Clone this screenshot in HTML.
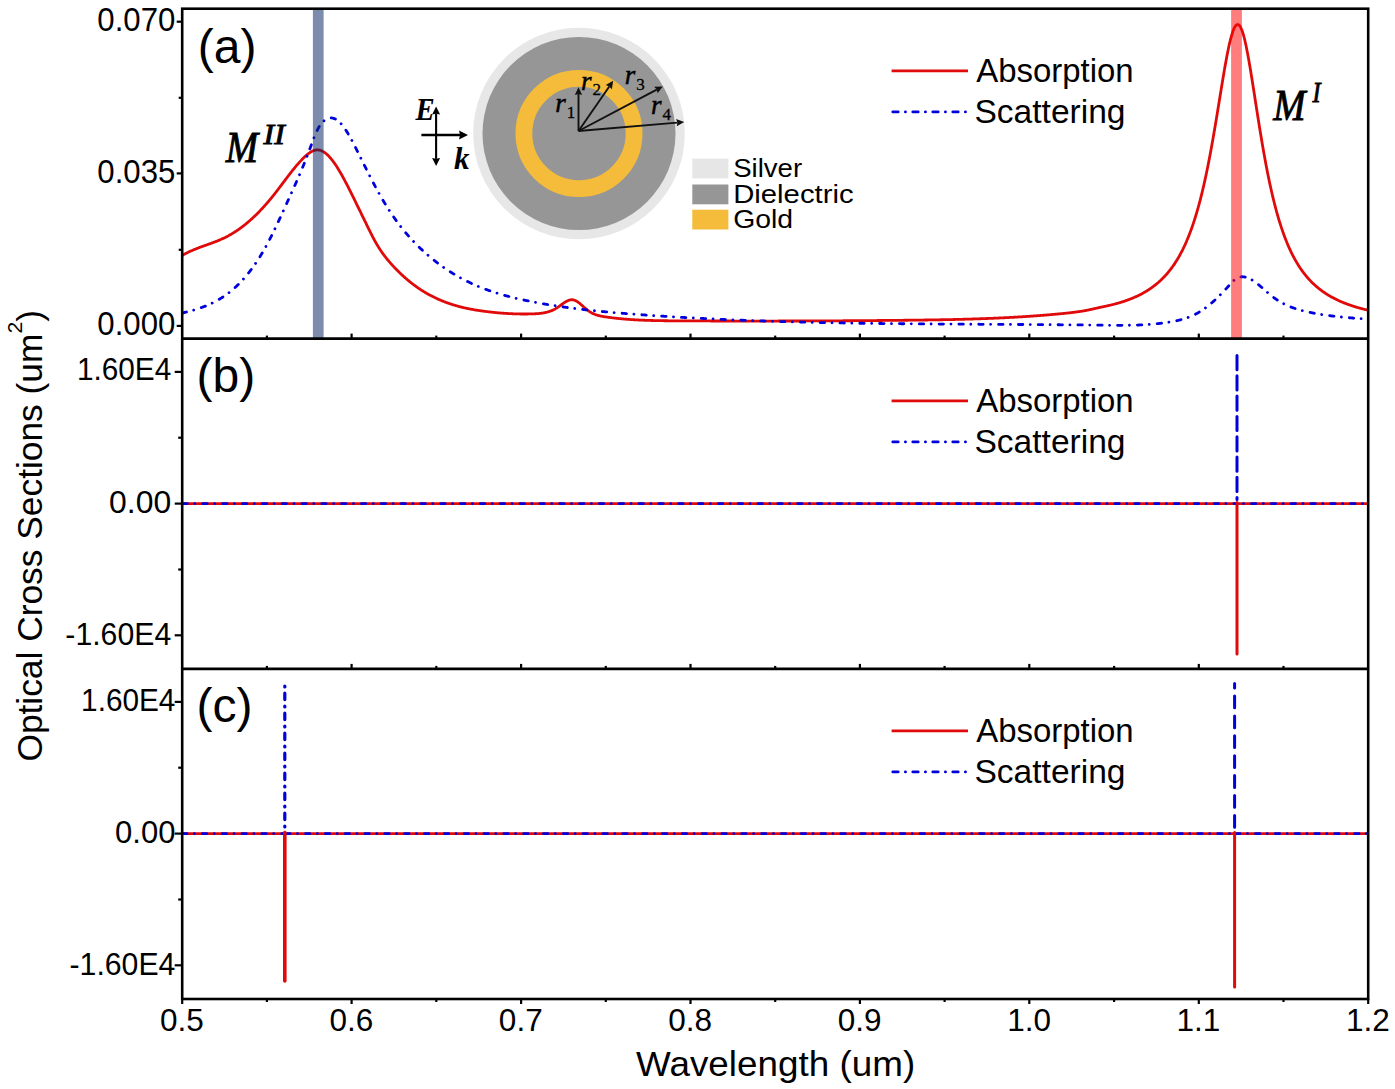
<!DOCTYPE html><html><head><meta charset="utf-8"><style>html,body{margin:0;padding:0;background:#fff;overflow:hidden}svg{display:block;font-family:"Liberation Sans",sans-serif}</style></head><body>
<svg font-family="Liberation Sans, sans-serif" width="1395" height="1089" viewBox="0 0 1395 1089">
<rect width="1395" height="1089" fill="#fff"/>
<defs><clipPath id="ca"><rect x="182.2" y="8.7" width="1186.0" height="329.9"/></clipPath></defs>
<g clip-path="url(#ca)" fill="none" stroke-width="2.8" stroke-linejoin="round">
<path d="M182.20,255.47 L182.70,255.18 L183.20,254.89 L183.70,254.61 L184.20,254.34 L184.70,254.07 L185.20,253.80 L185.70,253.53 L186.20,253.27 L186.70,253.02 L187.20,252.77 L187.70,252.52 L188.20,252.27 L188.70,252.03 L189.20,251.79 L189.70,251.56 L190.20,251.33 L190.70,251.10 L191.20,250.88 L191.70,250.65 L192.20,250.43 L192.70,250.22 L193.20,250.00 L193.70,249.79 L194.20,249.59 L194.70,249.38 L195.20,249.17 L195.70,248.97 L196.20,248.77 L196.70,248.58 L197.20,248.38 L197.70,248.19 L198.20,247.99 L198.70,247.80 L199.20,247.61 L199.70,247.43 L200.20,247.24 L200.70,247.05 L201.20,246.87 L201.70,246.69 L202.20,246.50 L202.70,246.32 L203.20,246.14 L203.70,245.96 L204.20,245.78 L204.70,245.60 L205.20,245.42 L205.70,245.25 L206.20,245.07 L206.70,244.89 L207.20,244.71 L207.70,244.53 L208.20,244.35 L208.70,244.17 L209.20,243.99 L209.70,243.81 L210.20,243.63 L210.70,243.45 L211.20,243.27 L211.70,243.09 L212.20,242.90 L212.70,242.72 L213.20,242.53 L213.70,242.34 L214.20,242.15 L214.70,241.96 L215.20,241.77 L215.70,241.58 L216.20,241.38 L216.70,241.18 L217.20,240.98 L217.70,240.78 L218.20,240.58 L218.70,240.37 L219.20,240.16 L219.70,239.95 L220.20,239.74 L220.70,239.52 L221.20,239.30 L221.70,239.08 L222.20,238.85 L222.70,238.62 L223.20,238.39 L223.70,238.16 L224.20,237.92 L224.70,237.68 L225.20,237.43 L225.70,237.19 L226.20,236.93 L226.70,236.68 L227.20,236.42 L227.70,236.15 L228.20,235.89 L228.70,235.61 L229.20,235.34 L229.70,235.06 L230.20,234.78 L230.70,234.49 L231.20,234.20 L231.70,233.90 L232.20,233.60 L232.70,233.30 L233.20,232.99 L233.70,232.68 L234.20,232.37 L234.70,232.05 L235.20,231.73 L235.70,231.40 L236.20,231.07 L236.70,230.74 L237.20,230.40 L237.70,230.06 L238.20,229.72 L238.70,229.37 L239.20,229.01 L239.70,228.66 L240.20,228.29 L240.70,227.93 L241.20,227.56 L241.70,227.19 L242.20,226.81 L242.70,226.43 L243.20,226.05 L243.70,225.66 L244.20,225.26 L244.70,224.87 L245.20,224.47 L245.70,224.06 L246.20,223.65 L246.70,223.24 L247.20,222.83 L247.70,222.41 L248.20,221.98 L248.70,221.55 L249.20,221.12 L249.70,220.69 L250.20,220.25 L250.70,219.80 L251.20,219.35 L251.70,218.90 L252.20,218.45 L252.70,217.99 L253.20,217.52 L253.70,217.05 L254.20,216.58 L254.70,216.11 L255.20,215.63 L255.70,215.14 L256.20,214.66 L256.70,214.16 L257.20,213.67 L257.70,213.17 L258.20,212.66 L258.70,212.16 L259.20,211.65 L259.70,211.13 L260.20,210.61 L260.70,210.09 L261.20,209.56 L261.70,209.03 L262.20,208.49 L262.70,207.95 L263.20,207.41 L263.70,206.86 L264.20,206.31 L264.70,205.75 L265.20,205.19 L265.70,204.63 L266.20,204.06 L266.70,203.49 L267.20,202.91 L267.70,202.33 L268.20,201.75 L268.70,201.16 L269.20,200.57 L269.70,199.97 L270.20,199.37 L270.70,198.77 L271.20,198.16 L271.70,197.54 L272.20,196.93 L272.70,196.31 L273.20,195.68 L273.70,195.05 L274.20,194.42 L274.70,193.78 L275.20,193.15 L275.70,192.50 L276.20,191.86 L276.70,191.21 L277.20,190.56 L277.70,189.91 L278.20,189.25 L278.70,188.59 L279.20,187.93 L279.70,187.27 L280.20,186.61 L280.70,185.95 L281.20,185.29 L281.70,184.62 L282.20,183.96 L282.70,183.29 L283.20,182.63 L283.70,181.96 L284.20,181.30 L284.70,180.63 L285.20,179.97 L285.70,179.31 L286.20,178.65 L286.70,177.99 L287.20,177.33 L287.70,176.67 L288.20,176.02 L288.70,175.36 L289.20,174.71 L289.70,174.07 L290.20,173.42 L290.70,172.78 L291.20,172.14 L291.70,171.50 L292.20,170.87 L292.70,170.24 L293.20,169.62 L293.70,169.00 L294.20,168.38 L294.70,167.77 L295.20,167.17 L295.70,166.57 L296.20,165.97 L296.70,165.38 L297.20,164.79 L297.70,164.22 L298.20,163.64 L298.70,163.08 L299.20,162.51 L299.70,161.96 L300.20,161.41 L300.70,160.87 L301.20,160.34 L301.70,159.82 L302.20,159.30 L302.70,158.79 L303.20,158.29 L303.70,157.79 L304.20,157.31 L304.70,156.83 L305.20,156.36 L305.70,155.91 L306.20,155.46 L306.70,155.03 L307.20,154.61 L307.70,154.21 L308.20,153.81 L308.70,153.43 L309.20,153.07 L309.70,152.73 L310.20,152.40 L310.70,152.08 L311.20,151.79 L311.70,151.51 L312.20,151.26 L312.70,151.02 L313.20,150.81 L313.70,150.61 L314.20,150.44 L314.70,150.29 L315.20,150.17 L315.70,150.07 L316.20,149.99 L316.70,149.94 L317.20,149.92 L317.70,149.92 L318.20,149.95 L318.70,150.01 L319.20,150.09 L319.70,150.20 L320.20,150.33 L320.70,150.49 L321.20,150.67 L321.70,150.88 L322.20,151.11 L322.70,151.36 L323.20,151.64 L323.70,151.94 L324.20,152.26 L324.70,152.61 L325.20,152.97 L325.70,153.36 L326.20,153.77 L326.70,154.20 L327.20,154.65 L327.70,155.12 L328.20,155.61 L328.70,156.11 L329.20,156.64 L329.70,157.19 L330.20,157.75 L330.70,158.33 L331.20,158.93 L331.70,159.55 L332.20,160.18 L332.70,160.83 L333.20,161.50 L333.70,162.18 L334.20,162.87 L334.70,163.58 L335.20,164.31 L335.70,165.05 L336.20,165.80 L336.70,166.57 L337.20,167.35 L337.70,168.14 L338.20,168.95 L338.70,169.77 L339.20,170.60 L339.70,171.44 L340.20,172.29 L340.70,173.15 L341.20,174.03 L341.70,174.91 L342.20,175.80 L342.70,176.71 L343.20,177.62 L343.70,178.54 L344.20,179.46 L344.70,180.40 L345.20,181.34 L345.70,182.29 L346.20,183.25 L346.70,184.21 L347.20,185.18 L347.70,186.16 L348.20,187.14 L348.70,188.12 L349.20,189.11 L349.70,190.11 L350.20,191.11 L350.70,192.11 L351.20,193.11 L351.70,194.12 L352.20,195.13 L352.70,196.15 L353.20,197.16 L353.70,198.18 L354.20,199.19 L354.70,200.21 L355.20,201.23 L355.70,202.25 L356.20,203.27 L356.70,204.29 L357.20,205.31 L357.70,206.33 L358.20,207.36 L358.70,208.38 L359.20,209.40 L359.70,210.43 L360.20,211.45 L360.70,212.47 L361.20,213.50 L361.70,214.52 L362.20,215.55 L362.70,216.57 L363.20,217.60 L363.70,218.62 L364.20,219.65 L364.70,220.67 L365.20,221.69 L365.70,222.72 L366.20,223.74 L366.70,224.77 L367.20,225.79 L367.70,226.81 L368.20,227.83 L368.70,228.86 L369.20,229.87 L369.70,230.89 L370.20,231.90 L370.70,232.91 L371.20,233.90 L371.70,234.90 L372.20,235.88 L372.70,236.85 L373.20,237.81 L373.70,238.76 L374.20,239.69 L374.70,240.61 L375.20,241.52 L375.70,242.41 L376.20,243.28 L376.70,244.14 L377.20,244.98 L377.70,245.81 L378.20,246.63 L378.70,247.43 L379.20,248.22 L379.70,248.99 L380.20,249.75 L380.70,250.50 L381.20,251.24 L381.70,251.96 L382.20,252.68 L382.70,253.38 L383.20,254.07 L383.70,254.75 L384.20,255.42 L384.70,256.08 L385.20,256.73 L385.70,257.37 L386.20,258.01 L386.70,258.63 L387.20,259.25 L387.70,259.85 L388.20,260.45 L388.70,261.05 L389.20,261.63 L389.70,262.21 L390.20,262.79 L390.70,263.35 L391.20,263.92 L391.70,264.47 L392.20,265.02 L392.70,265.57 L393.20,266.11 L393.70,266.65 L394.20,267.18 L394.70,267.71 L395.20,268.24 L395.70,268.76 L396.20,269.27 L396.70,269.79 L397.20,270.29 L397.70,270.80 L398.20,271.30 L398.70,271.79 L399.20,272.28 L399.70,272.77 L400.20,273.25 L400.70,273.73 L401.20,274.20 L401.70,274.67 L402.20,275.14 L402.70,275.60 L403.20,276.05 L403.70,276.51 L404.20,276.96 L404.70,277.40 L405.20,277.84 L405.70,278.28 L406.20,278.71 L406.70,279.14 L407.20,279.57 L407.70,279.99 L408.20,280.41 L408.70,280.82 L409.20,281.23 L409.70,281.64 L410.20,282.04 L410.70,282.44 L411.20,282.84 L411.70,283.23 L412.20,283.62 L412.70,284.00 L413.20,284.38 L413.70,284.76 L414.20,285.13 L414.70,285.50 L415.20,285.87 L415.70,286.23 L416.20,286.59 L416.70,286.94 L417.20,287.30 L417.70,287.64 L418.20,287.99 L418.70,288.33 L419.20,288.67 L419.70,289.00 L420.20,289.34 L420.70,289.66 L421.20,289.99 L421.70,290.31 L422.20,290.63 L422.70,290.94 L423.20,291.26 L423.70,291.57 L424.20,291.87 L424.70,292.17 L425.20,292.47 L425.70,292.77 L426.20,293.06 L426.70,293.35 L427.20,293.64 L427.70,293.92 L428.20,294.20 L428.70,294.48 L429.20,294.75 L429.70,295.03 L430.20,295.29 L430.70,295.56 L431.20,295.82 L431.70,296.08 L432.20,296.34 L432.70,296.60 L433.20,296.85 L433.70,297.10 L434.20,297.34 L434.70,297.58 L435.20,297.82 L435.70,298.06 L436.20,298.30 L436.70,298.53 L437.20,298.76 L437.70,298.99 L438.20,299.21 L438.70,299.43 L439.20,299.65 L439.70,299.87 L440.20,300.08 L440.70,300.29 L441.20,300.50 L441.70,300.71 L442.20,300.91 L442.70,301.12 L443.20,301.32 L443.70,301.51 L444.20,301.71 L444.70,301.90 L445.20,302.09 L445.70,302.28 L446.20,302.46 L446.70,302.65 L447.20,302.83 L447.70,303.00 L448.20,303.18 L448.70,303.35 L449.20,303.53 L449.70,303.70 L450.20,303.86 L450.70,304.03 L451.20,304.19 L451.70,304.35 L452.20,304.51 L452.70,304.67 L453.20,304.82 L453.70,304.98 L454.20,305.13 L454.70,305.28 L455.20,305.43 L455.70,305.57 L456.20,305.71 L456.70,305.85 L457.20,305.99 L457.70,306.13 L458.20,306.27 L458.70,306.40 L459.20,306.53 L459.70,306.66 L460.20,306.79 L460.70,306.92 L461.20,307.04 L461.70,307.17 L462.20,307.29 L462.70,307.41 L463.20,307.53 L463.70,307.65 L464.20,307.76 L464.70,307.87 L465.20,307.99 L465.70,308.10 L466.20,308.21 L466.70,308.31 L467.20,308.42 L467.70,308.52 L468.20,308.63 L468.70,308.73 L469.20,308.83 L469.70,308.93 L470.20,309.02 L470.70,309.12 L471.20,309.22 L471.70,309.31 L472.20,309.40 L472.70,309.49 L473.20,309.58 L473.70,309.67 L474.20,309.76 L474.70,309.84 L475.20,309.93 L475.70,310.01 L476.20,310.09 L476.70,310.17 L477.20,310.25 L477.70,310.33 L478.20,310.41 L478.70,310.49 L479.20,310.56 L479.70,310.64 L480.20,310.71 L480.70,310.79 L481.20,310.86 L481.70,310.93 L482.20,311.00 L482.70,311.07 L483.20,311.14 L483.70,311.20 L484.20,311.27 L484.70,311.34 L485.20,311.40 L485.70,311.47 L486.20,311.53 L486.70,311.59 L487.20,311.65 L487.70,311.72 L488.20,311.78 L488.70,311.84 L489.20,311.89 L489.70,311.95 L490.20,312.01 L490.70,312.07 L491.20,312.12 L491.70,312.18 L492.20,312.23 L492.70,312.29 L493.20,312.34 L493.70,312.39 L494.20,312.44 L494.70,312.49 L495.20,312.54 L495.70,312.59 L496.20,312.64 L496.70,312.69 L497.20,312.73 L497.70,312.78 L498.20,312.82 L498.70,312.87 L499.20,312.91 L499.70,312.95 L500.20,312.99 L500.70,313.04 L501.20,313.08 L501.70,313.11 L502.20,313.15 L502.70,313.19 L503.20,313.23 L503.70,313.26 L504.20,313.30 L504.70,313.33 L505.20,313.37 L505.70,313.40 L506.20,313.43 L506.70,313.46 L507.20,313.49 L507.70,313.52 L508.20,313.55 L508.70,313.58 L509.20,313.60 L509.70,313.63 L510.20,313.65 L510.70,313.68 L511.20,313.70 L511.70,313.72 L512.20,313.75 L512.70,313.77 L513.20,313.79 L513.70,313.81 L514.20,313.82 L514.70,313.84 L515.20,313.86 L515.70,313.87 L516.20,313.89 L516.70,313.90 L517.20,313.91 L517.70,313.93 L518.20,313.94 L518.70,313.95 L519.20,313.96 L519.70,313.96 L520.20,313.97 L520.70,313.98 L521.20,313.98 L521.70,313.99 L522.20,313.99 L522.70,314.00 L523.20,314.00 L523.70,314.00 L524.20,314.00 L524.70,314.00 L525.20,314.00 L525.70,314.00 L526.20,313.99 L526.70,313.99 L527.20,313.98 L527.70,313.98 L528.20,313.97 L528.70,313.96 L529.20,313.95 L529.70,313.94 L530.20,313.93 L530.70,313.92 L531.20,313.91 L531.70,313.90 L532.20,313.88 L532.70,313.87 L533.20,313.85 L533.70,313.83 L534.20,313.81 L534.70,313.79 L535.20,313.77 L535.70,313.74 L536.20,313.72 L536.70,313.69 L537.20,313.65 L537.70,313.62 L538.20,313.58 L538.70,313.54 L539.20,313.49 L539.70,313.45 L540.20,313.39 L540.70,313.33 L541.20,313.27 L541.70,313.21 L542.20,313.14 L542.70,313.06 L543.20,312.98 L543.70,312.89 L544.20,312.80 L544.70,312.70 L545.20,312.59 L545.70,312.48 L546.20,312.37 L546.70,312.24 L547.20,312.11 L547.70,311.97 L548.20,311.83 L548.70,311.67 L549.20,311.51 L549.70,311.34 L550.20,311.16 L550.70,310.98 L551.20,310.78 L551.70,310.58 L552.20,310.37 L552.70,310.15 L553.20,309.91 L553.70,309.67 L554.20,309.42 L554.70,309.16 L555.20,308.89 L555.70,308.61 L556.20,308.31 L556.70,308.01 L557.20,307.70 L557.70,307.37 L558.20,307.03 L558.70,306.69 L559.20,306.33 L559.70,305.97 L560.20,305.61 L560.70,305.24 L561.20,304.87 L561.70,304.50 L562.20,304.14 L562.70,303.77 L563.20,303.42 L563.70,303.07 L564.20,302.73 L564.70,302.39 L565.20,302.08 L565.70,301.77 L566.20,301.48 L566.70,301.20 L567.20,300.95 L567.70,300.71 L568.20,300.50 L568.70,300.31 L569.20,300.14 L569.70,300.00 L570.20,299.89 L570.70,299.81 L571.20,299.76 L571.70,299.74 L572.20,299.75 L572.70,299.80 L573.20,299.88 L573.70,299.99 L574.20,300.13 L574.70,300.30 L575.20,300.50 L575.70,300.73 L576.20,300.98 L576.70,301.26 L577.20,301.57 L577.70,301.90 L578.20,302.25 L578.70,302.63 L579.20,303.02 L579.70,303.42 L580.20,303.84 L580.70,304.27 L581.20,304.71 L581.70,305.15 L582.20,305.60 L582.70,306.04 L583.20,306.49 L583.70,306.93 L584.20,307.37 L584.70,307.81 L585.20,308.24 L585.70,308.66 L586.20,309.08 L586.70,309.49 L587.20,309.89 L587.70,310.27 L588.20,310.65 L588.70,311.01 L589.20,311.36 L589.70,311.69 L590.20,312.01 L590.70,312.31 L591.20,312.60 L591.70,312.88 L592.20,313.14 L592.70,313.39 L593.20,313.63 L593.70,313.86 L594.20,314.07 L594.70,314.28 L595.20,314.47 L595.70,314.66 L596.20,314.84 L596.70,315.00 L597.20,315.16 L597.70,315.31 L598.20,315.45 L598.70,315.58 L599.20,315.71 L599.70,315.83 L600.20,315.94 L600.70,316.05 L601.20,316.15 L601.70,316.25 L602.20,316.35 L602.70,316.44 L603.20,316.52 L603.70,316.60 L604.20,316.68 L604.70,316.76 L605.20,316.84 L605.70,316.91 L606.20,316.98 L606.70,317.06 L607.20,317.13 L607.70,317.20 L608.20,317.27 L608.70,317.33 L609.20,317.40 L609.70,317.47 L610.20,317.53 L610.70,317.60 L611.20,317.66 L611.70,317.73 L612.20,317.79 L612.70,317.85 L613.20,317.91 L613.70,317.97 L614.20,318.03 L614.70,318.09 L615.20,318.14 L615.70,318.20 L616.20,318.25 L616.70,318.31 L617.20,318.36 L617.70,318.42 L618.20,318.47 L618.70,318.52 L619.20,318.57 L619.70,318.62 L620.20,318.67 L620.70,318.72 L621.20,318.76 L621.70,318.81 L622.20,318.86 L622.70,318.90 L623.20,318.95 L623.70,318.99 L624.20,319.04 L624.70,319.08 L625.20,319.12 L625.70,319.16 L626.20,319.20 L626.70,319.24 L627.20,319.28 L627.70,319.32 L628.20,319.36 L628.70,319.39 L629.20,319.43 L629.70,319.47 L630.20,319.50 L630.70,319.54 L631.20,319.57 L631.70,319.60 L632.20,319.64 L632.70,319.67 L633.20,319.70 L633.70,319.73 L634.20,319.76 L634.70,319.79 L635.20,319.82 L635.70,319.85 L636.20,319.88 L636.70,319.90 L637.20,319.93 L637.70,319.96 L638.20,319.98 L638.70,320.01 L639.20,320.03 L639.70,320.06 L640.20,320.08 L640.70,320.10 L641.20,320.13 L641.70,320.15 L642.20,320.17 L642.70,320.19 L643.20,320.21 L643.70,320.23 L644.20,320.25 L644.70,320.27 L645.20,320.29 L645.70,320.31 L646.20,320.33 L646.70,320.34 L647.20,320.36 L647.70,320.38 L648.20,320.39 L648.70,320.41 L649.20,320.43 L649.70,320.44 L650.20,320.46 L650.70,320.47 L651.20,320.48 L651.70,320.50 L652.20,320.51 L652.70,320.52 L653.20,320.54 L653.70,320.55 L654.20,320.56 L654.70,320.57 L655.20,320.58 L655.70,320.59 L656.20,320.60 L656.70,320.61 L657.20,320.62 L657.70,320.63 L658.20,320.64 L658.70,320.65 L659.20,320.66 L659.70,320.67 L660.20,320.68 L660.70,320.68 L661.20,320.69 L661.70,320.70 L662.20,320.71 L662.70,320.71 L663.20,320.72 L663.70,320.73 L664.20,320.73 L664.70,320.74 L665.20,320.74 L665.70,320.75 L666.20,320.76 L666.70,320.76 L667.20,320.77 L667.70,320.77 L668.20,320.78 L668.70,320.78 L669.20,320.78 L669.70,320.79 L670.20,320.79 L670.70,320.80 L671.20,320.80 L671.70,320.80 L672.20,320.81 L672.70,320.81 L673.20,320.81 L673.70,320.82 L674.20,320.82 L674.70,320.82 L675.20,320.83 L675.70,320.83 L676.20,320.83 L676.70,320.84 L677.20,320.84 L677.70,320.84 L678.20,320.84 L678.70,320.85 L679.20,320.85 L679.70,320.85 L680.20,320.85 L680.70,320.86 L681.20,320.86 L681.70,320.86 L682.20,320.86 L682.70,320.87 L683.20,320.87 L683.70,320.87 L684.20,320.87 L684.70,320.88 L685.20,320.88 L685.70,320.88 L686.20,320.88 L686.70,320.88 L687.20,320.89 L687.70,320.89 L688.20,320.89 L688.70,320.89 L689.20,320.90 L689.70,320.90 L690.20,320.90 L690.70,320.90 L691.20,320.90 L691.70,320.91 L692.20,320.91 L692.70,320.91 L693.20,320.91 L693.70,320.92 L694.20,320.92 L694.70,320.92 L695.20,320.92 L695.70,320.92 L696.20,320.93 L696.70,320.93 L697.20,320.93 L697.70,320.93 L698.20,320.93 L698.70,320.94 L699.20,320.94 L699.70,320.94 L700.20,320.94 L700.70,320.94 L701.20,320.94 L701.70,320.95 L702.20,320.95 L702.70,320.95 L703.20,320.95 L703.70,320.95 L704.20,320.96 L704.70,320.96 L705.20,320.96 L705.70,320.96 L706.20,320.96 L706.70,320.96 L707.20,320.97 L707.70,320.97 L708.20,320.97 L708.70,320.97 L709.20,320.97 L709.70,320.97 L710.20,320.97 L710.70,320.98 L711.20,320.98 L711.70,320.98 L712.20,320.98 L712.70,320.98 L713.20,320.98 L713.70,320.98 L714.20,320.99 L714.70,320.99 L715.20,320.99 L715.70,320.99 L716.20,320.99 L716.70,320.99 L717.20,320.99 L717.70,321.00 L718.20,321.00 L718.70,321.00 L719.20,321.00 L719.70,321.00 L720.20,321.00 L720.70,321.00 L721.20,321.00 L721.70,321.00 L722.20,321.01 L722.70,321.01 L723.20,321.01 L723.70,321.01 L724.20,321.01 L724.70,321.01 L725.20,321.01 L725.70,321.01 L726.20,321.01 L726.70,321.02 L727.20,321.02 L727.70,321.02 L728.20,321.02 L728.70,321.02 L729.20,321.02 L729.70,321.02 L730.20,321.02 L730.70,321.02 L731.20,321.02 L731.70,321.02 L732.20,321.02 L732.70,321.03 L733.20,321.03 L733.70,321.03 L734.20,321.03 L734.70,321.03 L735.20,321.03 L735.70,321.03 L736.20,321.03 L736.70,321.03 L737.20,321.03 L737.70,321.03 L738.20,321.03 L738.70,321.03 L739.20,321.03 L739.70,321.03 L740.20,321.04 L740.70,321.04 L741.20,321.04 L741.70,321.04 L742.20,321.04 L742.70,321.04 L743.20,321.04 L743.70,321.04 L744.20,321.04 L744.70,321.04 L745.20,321.04 L745.70,321.04 L746.20,321.04 L746.70,321.04 L747.20,321.04 L747.70,321.04 L748.20,321.04 L748.70,321.04 L749.20,321.04 L749.70,321.04 L750.20,321.04 L750.70,321.04 L751.20,321.04 L751.70,321.04 L752.20,321.04 L752.70,321.04 L753.20,321.04 L753.70,321.04 L754.20,321.04 L754.70,321.04 L755.20,321.04 L755.70,321.04 L756.20,321.04 L756.70,321.04 L757.20,321.04 L757.70,321.04 L758.20,321.04 L758.70,321.04 L759.20,321.04 L759.70,321.04 L760.20,321.04 L760.70,321.04 L761.20,321.04 L761.70,321.04 L762.20,321.04 L762.70,321.04 L763.20,321.04 L763.70,321.04 L764.20,321.04 L764.70,321.04 L765.20,321.04 L765.70,321.04 L766.20,321.04 L766.70,321.04 L767.20,321.04 L767.70,321.04 L768.20,321.04 L768.70,321.04 L769.20,321.04 L769.70,321.04 L770.20,321.04 L770.70,321.03 L771.20,321.03 L771.70,321.03 L772.20,321.03 L772.70,321.03 L773.20,321.03 L773.70,321.03 L774.20,321.03 L774.70,321.03 L775.20,321.03 L775.70,321.03 L776.20,321.03 L776.70,321.03 L777.20,321.03 L777.70,321.03 L778.20,321.02 L778.70,321.02 L779.20,321.02 L779.70,321.02 L780.20,321.02 L780.70,321.02 L781.20,321.02 L781.70,321.02 L782.20,321.02 L782.70,321.02 L783.20,321.02 L783.70,321.01 L784.20,321.01 L784.70,321.01 L785.20,321.01 L785.70,321.01 L786.20,321.01 L786.70,321.01 L787.20,321.01 L787.70,321.01 L788.20,321.01 L788.70,321.00 L789.20,321.00 L789.70,321.00 L790.20,321.00 L790.70,321.00 L791.20,321.00 L791.70,321.00 L792.20,321.00 L792.70,320.99 L793.20,320.99 L793.70,320.99 L794.20,320.99 L794.70,320.99 L795.20,320.99 L795.70,320.99 L796.20,320.98 L796.70,320.98 L797.20,320.98 L797.70,320.98 L798.20,320.98 L798.70,320.98 L799.20,320.98 L799.70,320.97 L800.20,320.97 L800.70,320.97 L801.20,320.97 L801.70,320.97 L802.20,320.97 L802.70,320.96 L803.20,320.96 L803.70,320.96 L804.20,320.96 L804.70,320.96 L805.20,320.96 L805.70,320.95 L806.20,320.95 L806.70,320.95 L807.20,320.95 L807.70,320.95 L808.20,320.95 L808.70,320.94 L809.20,320.94 L809.70,320.94 L810.20,320.94 L810.70,320.94 L811.20,320.93 L811.70,320.93 L812.20,320.93 L812.70,320.93 L813.20,320.93 L813.70,320.92 L814.20,320.92 L814.70,320.92 L815.20,320.92 L815.70,320.92 L816.20,320.91 L816.70,320.91 L817.20,320.91 L817.70,320.91 L818.20,320.91 L818.70,320.90 L819.20,320.90 L819.70,320.90 L820.20,320.90 L820.70,320.89 L821.20,320.89 L821.70,320.89 L822.20,320.89 L822.70,320.89 L823.20,320.88 L823.70,320.88 L824.20,320.88 L824.70,320.88 L825.20,320.87 L825.70,320.87 L826.20,320.87 L826.70,320.87 L827.20,320.86 L827.70,320.86 L828.20,320.86 L828.70,320.86 L829.20,320.85 L829.70,320.85 L830.20,320.85 L830.70,320.85 L831.20,320.84 L831.70,320.84 L832.20,320.84 L832.70,320.83 L833.20,320.83 L833.70,320.83 L834.20,320.83 L834.70,320.82 L835.20,320.82 L835.70,320.82 L836.20,320.82 L836.70,320.81 L837.20,320.81 L837.70,320.81 L838.20,320.80 L838.70,320.80 L839.20,320.80 L839.70,320.80 L840.20,320.79 L840.70,320.79 L841.20,320.79 L841.70,320.78 L842.20,320.78 L842.70,320.78 L843.20,320.77 L843.70,320.77 L844.20,320.77 L844.70,320.76 L845.20,320.76 L845.70,320.76 L846.20,320.76 L846.70,320.75 L847.20,320.75 L847.70,320.75 L848.20,320.74 L848.70,320.74 L849.20,320.74 L849.70,320.73 L850.20,320.73 L850.70,320.73 L851.20,320.72 L851.70,320.72 L852.20,320.72 L852.70,320.71 L853.20,320.71 L853.70,320.71 L854.20,320.70 L854.70,320.70 L855.20,320.70 L855.70,320.69 L856.20,320.69 L856.70,320.68 L857.20,320.68 L857.70,320.68 L858.20,320.67 L858.70,320.67 L859.20,320.67 L859.70,320.66 L860.20,320.66 L860.70,320.66 L861.20,320.65 L861.70,320.65 L862.20,320.64 L862.70,320.64 L863.20,320.64 L863.70,320.63 L864.20,320.63 L864.70,320.63 L865.20,320.62 L865.70,320.62 L866.20,320.61 L866.70,320.61 L867.20,320.61 L867.70,320.60 L868.20,320.60 L868.70,320.59 L869.20,320.59 L869.70,320.59 L870.20,320.58 L870.70,320.58 L871.20,320.57 L871.70,320.57 L872.20,320.57 L872.70,320.56 L873.20,320.56 L873.70,320.55 L874.20,320.55 L874.70,320.54 L875.20,320.54 L875.70,320.54 L876.20,320.53 L876.70,320.53 L877.20,320.52 L877.70,320.52 L878.20,320.51 L878.70,320.51 L879.20,320.51 L879.70,320.50 L880.20,320.50 L880.70,320.49 L881.20,320.49 L881.70,320.48 L882.20,320.48 L882.70,320.47 L883.20,320.47 L883.70,320.47 L884.20,320.46 L884.70,320.46 L885.20,320.45 L885.70,320.45 L886.20,320.44 L886.70,320.44 L887.20,320.43 L887.70,320.43 L888.20,320.42 L888.70,320.42 L889.20,320.41 L889.70,320.41 L890.20,320.41 L890.70,320.40 L891.20,320.40 L891.70,320.39 L892.20,320.39 L892.70,320.38 L893.20,320.38 L893.70,320.37 L894.20,320.37 L894.70,320.36 L895.20,320.36 L895.70,320.35 L896.20,320.35 L896.70,320.34 L897.20,320.34 L897.70,320.33 L898.20,320.33 L898.70,320.32 L899.20,320.32 L899.70,320.31 L900.20,320.31 L900.70,320.30 L901.20,320.30 L901.70,320.29 L902.20,320.29 L902.70,320.28 L903.20,320.28 L903.70,320.27 L904.20,320.26 L904.70,320.26 L905.20,320.25 L905.70,320.25 L906.20,320.24 L906.70,320.24 L907.20,320.23 L907.70,320.23 L908.20,320.22 L908.70,320.22 L909.20,320.21 L909.70,320.20 L910.20,320.20 L910.70,320.19 L911.20,320.19 L911.70,320.18 L912.20,320.18 L912.70,320.17 L913.20,320.16 L913.70,320.16 L914.20,320.15 L914.70,320.15 L915.20,320.14 L915.70,320.13 L916.20,320.13 L916.70,320.12 L917.20,320.12 L917.70,320.11 L918.20,320.10 L918.70,320.10 L919.20,320.09 L919.70,320.08 L920.20,320.08 L920.70,320.07 L921.20,320.07 L921.70,320.06 L922.20,320.05 L922.70,320.05 L923.20,320.04 L923.70,320.03 L924.20,320.02 L924.70,320.02 L925.20,320.01 L925.70,320.00 L926.20,320.00 L926.70,319.99 L927.20,319.98 L927.70,319.98 L928.20,319.97 L928.70,319.96 L929.20,319.95 L929.70,319.95 L930.20,319.94 L930.70,319.93 L931.20,319.92 L931.70,319.92 L932.20,319.91 L932.70,319.90 L933.20,319.89 L933.70,319.88 L934.20,319.88 L934.70,319.87 L935.20,319.86 L935.70,319.85 L936.20,319.84 L936.70,319.83 L937.20,319.83 L937.70,319.82 L938.20,319.81 L938.70,319.80 L939.20,319.79 L939.70,319.78 L940.20,319.77 L940.70,319.77 L941.20,319.76 L941.70,319.75 L942.20,319.74 L942.70,319.73 L943.20,319.72 L943.70,319.71 L944.20,319.70 L944.70,319.69 L945.20,319.68 L945.70,319.67 L946.20,319.66 L946.70,319.65 L947.20,319.64 L947.70,319.63 L948.20,319.62 L948.70,319.61 L949.20,319.60 L949.70,319.59 L950.20,319.58 L950.70,319.57 L951.20,319.56 L951.70,319.55 L952.20,319.54 L952.70,319.53 L953.20,319.51 L953.70,319.50 L954.20,319.49 L954.70,319.48 L955.20,319.47 L955.70,319.46 L956.20,319.45 L956.70,319.43 L957.20,319.42 L957.70,319.41 L958.20,319.40 L958.70,319.39 L959.20,319.37 L959.70,319.36 L960.20,319.35 L960.70,319.34 L961.20,319.32 L961.70,319.31 L962.20,319.30 L962.70,319.28 L963.20,319.27 L963.70,319.26 L964.20,319.24 L964.70,319.23 L965.20,319.22 L965.70,319.20 L966.20,319.19 L966.70,319.18 L967.20,319.16 L967.70,319.15 L968.20,319.13 L968.70,319.12 L969.20,319.10 L969.70,319.09 L970.20,319.08 L970.70,319.06 L971.20,319.05 L971.70,319.03 L972.20,319.02 L972.70,319.00 L973.20,318.98 L973.70,318.97 L974.20,318.95 L974.70,318.94 L975.20,318.92 L975.70,318.91 L976.20,318.89 L976.70,318.87 L977.20,318.86 L977.70,318.84 L978.20,318.82 L978.70,318.81 L979.20,318.79 L979.70,318.77 L980.20,318.75 L980.70,318.74 L981.20,318.72 L981.70,318.70 L982.20,318.68 L982.70,318.67 L983.20,318.65 L983.70,318.63 L984.20,318.61 L984.70,318.59 L985.20,318.57 L985.70,318.56 L986.20,318.54 L986.70,318.52 L987.20,318.50 L987.70,318.48 L988.20,318.46 L988.70,318.44 L989.20,318.42 L989.70,318.40 L990.20,318.38 L990.70,318.36 L991.20,318.34 L991.70,318.32 L992.20,318.30 L992.70,318.28 L993.20,318.26 L993.70,318.24 L994.20,318.21 L994.70,318.19 L995.20,318.17 L995.70,318.15 L996.20,318.13 L996.70,318.11 L997.20,318.08 L997.70,318.06 L998.20,318.04 L998.70,318.02 L999.20,317.99 L999.70,317.97 L1000.20,317.95 L1000.70,317.92 L1001.20,317.90 L1001.70,317.88 L1002.20,317.85 L1002.70,317.83 L1003.20,317.80 L1003.70,317.78 L1004.20,317.76 L1004.70,317.73 L1005.20,317.71 L1005.70,317.68 L1006.20,317.66 L1006.70,317.63 L1007.20,317.61 L1007.70,317.58 L1008.20,317.55 L1008.70,317.53 L1009.20,317.50 L1009.70,317.47 L1010.20,317.45 L1010.70,317.42 L1011.20,317.39 L1011.70,317.37 L1012.20,317.34 L1012.70,317.31 L1013.20,317.29 L1013.70,317.26 L1014.20,317.23 L1014.70,317.20 L1015.20,317.17 L1015.70,317.14 L1016.20,317.12 L1016.70,317.09 L1017.20,317.06 L1017.70,317.03 L1018.20,317.00 L1018.70,316.97 L1019.20,316.94 L1019.70,316.91 L1020.20,316.88 L1020.70,316.85 L1021.20,316.82 L1021.70,316.79 L1022.20,316.76 L1022.70,316.73 L1023.20,316.69 L1023.70,316.66 L1024.20,316.63 L1024.70,316.60 L1025.20,316.57 L1025.70,316.53 L1026.20,316.50 L1026.70,316.47 L1027.20,316.44 L1027.70,316.40 L1028.20,316.37 L1028.70,316.34 L1029.20,316.30 L1029.70,316.27 L1030.20,316.23 L1030.70,316.20 L1031.20,316.16 L1031.70,316.13 L1032.20,316.09 L1032.70,316.06 L1033.20,316.02 L1033.70,315.99 L1034.20,315.95 L1034.70,315.92 L1035.20,315.88 L1035.70,315.84 L1036.20,315.81 L1036.70,315.77 L1037.20,315.73 L1037.70,315.70 L1038.20,315.66 L1038.70,315.62 L1039.20,315.58 L1039.70,315.54 L1040.20,315.51 L1040.70,315.47 L1041.20,315.43 L1041.70,315.39 L1042.20,315.35 L1042.70,315.31 L1043.20,315.27 L1043.70,315.23 L1044.20,315.19 L1044.70,315.15 L1045.20,315.11 L1045.70,315.07 L1046.20,315.03 L1046.70,314.99 L1047.20,314.94 L1047.70,314.90 L1048.20,314.86 L1048.70,314.82 L1049.20,314.78 L1049.70,314.73 L1050.20,314.69 L1050.70,314.65 L1051.20,314.60 L1051.70,314.56 L1052.20,314.52 L1052.70,314.47 L1053.20,314.43 L1053.70,314.38 L1054.20,314.34 L1054.70,314.29 L1055.20,314.25 L1055.70,314.20 L1056.20,314.16 L1056.70,314.11 L1057.20,314.06 L1057.70,314.02 L1058.20,313.97 L1058.70,313.92 L1059.20,313.88 L1059.70,313.83 L1060.20,313.78 L1060.70,313.73 L1061.20,313.68 L1061.70,313.64 L1062.20,313.59 L1062.70,313.54 L1063.20,313.49 L1063.70,313.44 L1064.20,313.39 L1064.70,313.34 L1065.20,313.28 L1065.70,313.23 L1066.20,313.18 L1066.70,313.13 L1067.20,313.07 L1067.70,313.02 L1068.20,312.96 L1068.70,312.91 L1069.20,312.85 L1069.70,312.80 L1070.20,312.74 L1070.70,312.68 L1071.20,312.62 L1071.70,312.56 L1072.20,312.50 L1072.70,312.44 L1073.20,312.38 L1073.70,312.32 L1074.20,312.25 L1074.70,312.19 L1075.20,312.12 L1075.70,312.06 L1076.20,311.99 L1076.70,311.92 L1077.20,311.85 L1077.70,311.78 L1078.20,311.71 L1078.70,311.64 L1079.20,311.56 L1079.70,311.49 L1080.20,311.41 L1080.70,311.34 L1081.20,311.26 L1081.70,311.18 L1082.20,311.10 L1082.70,311.02 L1083.20,310.93 L1083.70,310.85 L1084.20,310.76 L1084.70,310.68 L1085.20,310.59 L1085.70,310.50 L1086.20,310.40 L1086.70,310.31 L1087.20,310.21 L1087.70,310.11 L1088.20,310.01 L1088.70,309.91 L1089.20,309.81 L1089.70,309.70 L1090.20,309.59 L1090.70,309.48 L1091.20,309.37 L1091.70,309.26 L1092.20,309.15 L1092.70,309.04 L1093.20,308.92 L1093.70,308.81 L1094.20,308.70 L1094.70,308.58 L1095.20,308.47 L1095.70,308.36 L1096.20,308.25 L1096.70,308.13 L1097.20,308.02 L1097.70,307.91 L1098.20,307.80 L1098.70,307.69 L1099.20,307.58 L1099.70,307.47 L1100.00,307.41 L1100.50,307.30 L1101.00,307.20 L1101.50,307.09 L1102.00,306.99 L1102.50,306.88 L1103.00,306.78 L1103.50,306.67 L1104.00,306.57 L1104.50,306.46 L1105.00,306.36 L1105.50,306.25 L1106.00,306.14 L1106.50,306.03 L1107.00,305.92 L1107.50,305.81 L1108.00,305.70 L1108.50,305.59 L1109.00,305.47 L1109.50,305.36 L1110.00,305.24 L1110.50,305.12 L1111.00,305.00 L1111.50,304.88 L1112.00,304.76 L1112.50,304.63 L1113.00,304.51 L1113.50,304.38 L1114.00,304.25 L1114.50,304.12 L1115.00,303.99 L1115.50,303.86 L1116.00,303.72 L1116.50,303.58 L1117.00,303.44 L1117.50,303.30 L1118.00,303.16 L1118.50,303.02 L1119.00,302.87 L1119.50,302.72 L1120.00,302.57 L1120.50,302.42 L1121.00,302.27 L1121.50,302.11 L1122.00,301.96 L1122.50,301.80 L1123.00,301.64 L1123.50,301.47 L1124.00,301.31 L1124.50,301.14 L1125.00,300.97 L1125.50,300.80 L1126.00,300.62 L1126.50,300.45 L1127.00,300.27 L1127.50,300.09 L1128.00,299.91 L1128.50,299.72 L1129.00,299.53 L1129.50,299.34 L1130.00,299.15 L1130.50,298.96 L1131.00,298.76 L1131.50,298.56 L1132.00,298.36 L1132.50,298.15 L1133.00,297.94 L1133.50,297.73 L1134.00,297.52 L1134.50,297.30 L1135.00,297.08 L1135.50,296.86 L1136.00,296.63 L1136.50,296.40 L1137.00,296.17 L1137.50,295.94 L1138.00,295.70 L1138.50,295.46 L1139.00,295.21 L1139.50,294.96 L1140.00,294.71 L1140.50,294.46 L1141.00,294.20 L1141.50,293.94 L1142.00,293.67 L1142.50,293.40 L1143.00,293.13 L1143.50,292.85 L1144.00,292.57 L1144.50,292.28 L1145.00,291.99 L1145.50,291.70 L1146.00,291.40 L1146.50,291.10 L1147.00,290.79 L1147.50,290.48 L1148.00,290.16 L1148.50,289.84 L1149.00,289.52 L1149.50,289.19 L1150.00,288.85 L1150.50,288.51 L1151.00,288.17 L1151.50,287.82 L1152.00,287.46 L1152.50,287.10 L1153.00,286.73 L1153.50,286.36 L1154.00,285.98 L1154.50,285.60 L1155.00,285.21 L1155.50,284.81 L1156.00,284.41 L1156.50,284.00 L1157.00,283.59 L1157.50,283.17 L1158.00,282.74 L1158.50,282.31 L1159.00,281.86 L1159.50,281.42 L1160.00,280.96 L1160.50,280.50 L1161.00,280.03 L1161.50,279.55 L1162.00,279.06 L1162.50,278.57 L1163.00,278.07 L1163.50,277.56 L1164.00,277.04 L1164.50,276.51 L1165.00,275.98 L1165.50,275.43 L1166.00,274.88 L1166.50,274.31 L1167.00,273.74 L1167.50,273.16 L1168.00,272.57 L1168.50,271.97 L1169.00,271.35 L1169.50,270.73 L1170.00,270.10 L1170.50,269.45 L1171.00,268.80 L1171.50,268.13 L1172.00,267.45 L1172.50,266.76 L1173.00,266.06 L1173.50,265.34 L1174.00,264.62 L1174.50,263.87 L1175.00,263.12 L1175.50,262.35 L1176.00,261.57 L1176.50,260.78 L1177.00,259.97 L1177.50,259.15 L1178.00,258.31 L1178.50,257.45 L1179.00,256.58 L1179.50,255.70 L1180.00,254.80 L1180.50,253.88 L1181.00,252.94 L1181.50,251.99 L1182.00,251.02 L1182.50,250.03 L1183.00,249.03 L1183.50,248.00 L1184.00,246.96 L1184.50,245.89 L1185.00,244.81 L1185.50,243.71 L1186.00,242.58 L1186.50,241.44 L1187.00,240.27 L1187.50,239.08 L1188.00,237.87 L1188.50,236.63 L1189.00,235.37 L1189.50,234.09 L1190.00,232.78 L1190.50,231.45 L1191.00,230.09 L1191.50,228.71 L1192.00,227.30 L1192.50,225.87 L1193.00,224.40 L1193.50,222.91 L1194.00,221.39 L1194.50,219.84 L1195.00,218.27 L1195.50,216.66 L1196.00,215.02 L1196.50,213.35 L1197.00,211.65 L1197.50,209.92 L1198.00,208.16 L1198.50,206.36 L1199.00,204.53 L1199.50,202.67 L1200.00,200.77 L1200.50,198.84 L1201.00,196.87 L1201.50,194.87 L1202.00,192.83 L1202.50,190.75 L1203.00,188.64 L1203.50,186.49 L1204.00,184.31 L1204.50,182.09 L1205.00,179.83 L1205.50,177.53 L1206.00,175.19 L1206.50,172.82 L1207.00,170.41 L1207.50,167.96 L1208.00,165.47 L1208.50,162.95 L1209.00,160.39 L1209.50,157.79 L1210.00,155.16 L1210.50,152.49 L1211.00,149.78 L1211.50,147.04 L1212.00,144.27 L1212.50,141.46 L1213.00,138.62 L1213.50,135.75 L1214.00,132.86 L1214.50,129.93 L1215.00,126.98 L1215.50,124.01 L1216.00,121.01 L1216.50,117.99 L1217.00,114.95 L1217.50,111.90 L1218.00,108.84 L1218.50,105.76 L1219.00,102.68 L1219.50,99.60 L1220.00,96.51 L1220.50,93.43 L1221.00,90.35 L1221.50,87.29 L1222.00,84.24 L1222.50,81.21 L1223.00,78.21 L1223.50,75.23 L1224.00,72.28 L1224.50,69.38 L1225.00,66.52 L1225.50,63.71 L1226.00,60.95 L1226.50,58.25 L1227.00,55.62 L1227.50,53.05 L1228.00,50.57 L1228.50,48.16 L1229.00,45.85 L1229.50,43.62 L1230.00,41.50 L1230.50,39.48 L1231.00,37.57 L1231.50,35.77 L1232.00,34.09 L1232.50,32.54 L1233.00,31.11 L1233.50,29.82 L1234.00,28.66 L1234.50,27.64 L1235.00,26.76 L1235.50,26.02 L1236.00,25.44 L1236.50,25.00 L1237.00,24.71 L1237.50,24.57 L1238.00,24.58 L1238.50,24.76 L1239.00,25.10 L1239.50,25.61 L1240.00,26.27 L1240.50,27.09 L1241.00,28.07 L1241.50,29.20 L1242.00,30.48 L1242.50,31.90 L1243.00,33.46 L1243.50,35.17 L1244.00,37.00 L1244.50,38.96 L1245.00,41.03 L1245.50,43.23 L1246.00,45.53 L1246.50,47.93 L1247.00,50.43 L1247.50,53.02 L1248.00,55.69 L1248.50,58.44 L1249.00,61.26 L1249.50,64.15 L1250.00,67.09 L1250.50,70.09 L1251.00,73.13 L1251.50,76.21 L1252.00,79.33 L1252.50,82.48 L1253.00,85.65 L1253.50,88.85 L1254.00,92.05 L1254.50,95.27 L1255.00,98.49 L1255.50,101.72 L1256.00,104.94 L1256.50,108.15 L1257.00,111.36 L1257.50,114.55 L1258.00,117.73 L1258.50,120.89 L1259.00,124.02 L1259.50,127.14 L1260.00,130.22 L1260.50,133.28 L1261.00,136.31 L1261.50,139.31 L1262.00,142.27 L1262.50,145.20 L1263.00,148.10 L1263.50,150.96 L1264.00,153.78 L1264.50,156.56 L1265.00,159.30 L1265.50,162.01 L1266.00,164.67 L1266.50,167.29 L1267.00,169.88 L1267.50,172.42 L1268.00,174.92 L1268.50,177.38 L1269.00,179.80 L1269.50,182.17 L1270.00,184.51 L1270.50,186.81 L1271.00,189.06 L1271.50,191.28 L1272.00,193.46 L1272.50,195.59 L1273.00,197.69 L1273.50,199.75 L1274.00,201.78 L1274.50,203.76 L1275.00,205.71 L1275.50,207.62 L1276.00,209.50 L1276.50,211.34 L1277.00,213.14 L1277.50,214.91 L1278.00,216.65 L1278.50,218.36 L1279.00,220.03 L1279.50,221.67 L1280.00,223.27 L1280.50,224.85 L1281.00,226.40 L1281.50,227.92 L1282.00,229.40 L1282.50,230.86 L1283.00,232.29 L1283.50,233.70 L1284.00,235.07 L1284.50,236.42 L1285.00,237.75 L1285.50,239.05 L1286.00,240.32 L1286.50,241.57 L1287.00,242.79 L1287.50,244.00 L1288.00,245.18 L1288.50,246.33 L1289.00,247.47 L1289.50,248.58 L1290.00,249.67 L1290.50,250.75 L1291.00,251.80 L1291.50,252.83 L1292.00,253.84 L1292.50,254.84 L1293.00,255.81 L1293.50,256.77 L1294.00,257.71 L1294.50,258.63 L1295.00,259.53 L1295.50,260.42 L1296.00,261.30 L1296.50,262.15 L1297.00,262.99 L1297.50,263.82 L1298.00,264.63 L1298.50,265.43 L1299.00,266.21 L1299.50,266.98 L1300.00,267.73 L1300.50,268.47 L1301.00,269.20 L1301.50,269.92 L1302.00,270.62 L1302.50,271.31 L1303.00,271.99 L1303.50,272.66 L1304.00,273.31 L1304.50,273.96 L1305.00,274.59 L1305.50,275.21 L1306.00,275.82 L1306.50,276.42 L1307.00,277.02 L1307.50,277.60 L1308.00,278.17 L1308.50,278.73 L1309.00,279.28 L1309.50,279.83 L1310.00,280.36 L1310.50,280.89 L1311.00,281.41 L1311.50,281.92 L1312.00,282.42 L1312.50,282.91 L1313.00,283.40 L1313.50,283.87 L1314.00,284.34 L1314.50,284.80 L1315.00,285.26 L1315.50,285.71 L1316.00,286.15 L1316.50,286.58 L1317.00,287.01 L1317.50,287.43 L1318.00,287.84 L1318.50,288.25 L1319.00,288.65 L1319.50,289.05 L1320.00,289.44 L1320.50,289.82 L1321.00,290.20 L1321.50,290.57 L1322.00,290.94 L1322.50,291.30 L1323.00,291.66 L1323.50,292.01 L1324.00,292.35 L1324.50,292.69 L1325.00,293.03 L1325.50,293.36 L1326.00,293.69 L1326.50,294.01 L1327.00,294.32 L1327.50,294.64 L1328.00,294.94 L1328.50,295.25 L1329.00,295.55 L1329.50,295.84 L1330.00,296.13 L1330.50,296.42 L1331.00,296.70 L1331.50,296.98 L1332.00,297.26 L1332.50,297.53 L1333.00,297.80 L1333.50,298.06 L1334.00,298.32 L1334.50,298.58 L1335.00,298.83 L1335.50,299.08 L1336.00,299.33 L1336.50,299.57 L1337.00,299.81 L1337.50,300.05 L1338.00,300.29 L1338.50,300.52 L1339.00,300.75 L1339.50,300.97 L1340.00,301.19 L1340.50,301.41 L1341.00,301.63 L1341.50,301.84 L1342.00,302.06 L1342.50,302.26 L1343.00,302.47 L1343.50,302.67 L1344.00,302.88 L1344.50,303.07 L1345.00,303.27 L1345.50,303.46 L1346.00,303.65 L1346.50,303.84 L1347.00,304.03 L1347.50,304.21 L1348.00,304.40 L1348.50,304.58 L1349.00,304.75 L1349.50,304.93 L1350.00,305.10 L1350.50,305.28 L1351.00,305.45 L1351.50,305.61 L1352.00,305.78 L1352.50,305.94 L1353.00,306.10 L1353.50,306.26 L1354.00,306.42 L1354.50,306.58 L1355.00,306.73 L1355.50,306.89 L1356.00,307.04 L1356.50,307.19 L1357.00,307.33 L1357.50,307.48 L1358.00,307.62 L1358.50,307.77 L1359.00,307.91 L1359.50,308.05 L1360.00,308.18 L1360.50,308.32 L1361.00,308.46 L1361.50,308.59 L1362.00,308.72 L1362.50,308.85 L1363.00,308.98 L1363.50,309.11 L1364.00,309.24 L1364.50,309.36 L1365.00,309.49 L1365.50,309.61 L1366.00,309.73 L1366.50,309.85 L1367.00,309.97 L1367.50,310.08 L1368.00,310.20 L1368.20,310.25" stroke="#e00a0a"/>
<path d="M182.20,313.06 L182.70,312.94 L183.20,312.82 L183.70,312.70 L184.20,312.58 L184.70,312.46 L185.20,312.34 L185.70,312.21 L186.20,312.09 L186.70,311.96 L187.20,311.83 L187.70,311.71 L188.20,311.58 L188.70,311.45 L189.20,311.31 L189.70,311.18 L190.20,311.05 L190.70,310.91 L191.20,310.78 L191.70,310.64 L192.20,310.50 L192.70,310.36 L193.20,310.21 L193.70,310.07 L194.20,309.92 L194.70,309.77 L195.20,309.62 L195.70,309.47 L196.20,309.32 L196.70,309.16 L197.20,309.00 L197.70,308.84 L198.20,308.68 L198.70,308.52 L199.20,308.35 L199.70,308.18 L200.20,308.01 L200.70,307.84 L201.20,307.66 L201.70,307.48 L202.20,307.30 L202.70,307.12 L203.20,306.94 L203.70,306.75 L204.20,306.56 L204.70,306.36 L205.20,306.17 L205.70,305.97 L206.20,305.76 L206.70,305.56 L207.20,305.35 L207.70,305.14 L208.20,304.92 L208.70,304.71 L209.20,304.49 L209.70,304.26 L210.20,304.03 L210.70,303.80 L211.20,303.57 L211.70,303.33 L212.20,303.09 L212.70,302.85 L213.20,302.60 L213.70,302.35 L214.20,302.09 L214.70,301.83 L215.20,301.57 L215.70,301.30 L216.20,301.03 L216.70,300.76 L217.20,300.48 L217.70,300.20 L218.20,299.91 L218.70,299.62 L219.20,299.32 L219.70,299.02 L220.20,298.72 L220.70,298.41 L221.20,298.10 L221.70,297.79 L222.20,297.46 L222.70,297.14 L223.20,296.81 L223.70,296.47 L224.20,296.13 L224.70,295.79 L225.20,295.44 L225.70,295.09 L226.20,294.73 L226.70,294.37 L227.20,294.00 L227.70,293.62 L228.20,293.25 L228.70,292.86 L229.20,292.47 L229.70,292.08 L230.20,291.68 L230.70,291.28 L231.20,290.87 L231.70,290.45 L232.20,290.03 L232.70,289.60 L233.20,289.17 L233.70,288.74 L234.20,288.29 L234.70,287.84 L235.20,287.39 L235.70,286.93 L236.20,286.46 L236.70,285.99 L237.20,285.51 L237.70,285.03 L238.20,284.54 L238.70,284.04 L239.20,283.54 L239.70,283.03 L240.20,282.52 L240.70,282.00 L241.20,281.47 L241.70,280.94 L242.20,280.40 L242.70,279.85 L243.20,279.30 L243.70,278.74 L244.20,278.17 L244.70,277.60 L245.20,277.02 L245.70,276.43 L246.20,275.84 L246.70,275.24 L247.20,274.63 L247.70,274.02 L248.20,273.40 L248.70,272.77 L249.20,272.13 L249.70,271.49 L250.20,270.84 L250.70,270.19 L251.20,269.52 L251.70,268.85 L252.20,268.17 L252.70,267.48 L253.20,266.79 L253.70,266.09 L254.20,265.38 L254.70,264.66 L255.20,263.94 L255.70,263.21 L256.20,262.47 L256.70,261.72 L257.20,260.96 L257.70,260.20 L258.20,259.43 L258.70,258.65 L259.20,257.86 L259.70,257.06 L260.20,256.26 L260.70,255.45 L261.20,254.62 L261.70,253.80 L262.20,252.96 L262.70,252.11 L263.20,251.26 L263.70,250.39 L264.20,249.52 L264.70,248.64 L265.20,247.75 L265.70,246.86 L266.20,245.95 L266.70,245.03 L267.20,244.11 L267.70,243.18 L268.20,242.23 L268.70,241.28 L269.20,240.33 L269.70,239.36 L270.20,238.39 L270.70,237.40 L271.20,236.41 L271.70,235.42 L272.20,234.42 L272.70,233.41 L273.20,232.39 L273.70,231.37 L274.20,230.34 L274.70,229.31 L275.20,228.27 L275.70,227.23 L276.20,226.18 L276.70,225.12 L277.20,224.07 L277.70,223.00 L278.20,221.94 L278.70,220.87 L279.20,219.79 L279.70,218.71 L280.20,217.63 L280.70,216.55 L281.20,215.46 L281.70,214.37 L282.20,213.28 L282.70,212.19 L283.20,211.09 L283.70,210.00 L284.20,208.90 L284.70,207.80 L285.20,206.70 L285.70,205.59 L286.20,204.49 L286.70,203.39 L287.20,202.29 L287.70,201.19 L288.20,200.08 L288.70,198.98 L289.20,197.88 L289.70,196.78 L290.20,195.68 L290.70,194.58 L291.20,193.48 L291.70,192.37 L292.20,191.27 L292.70,190.16 L293.20,189.05 L293.70,187.94 L294.20,186.83 L294.70,185.71 L295.20,184.59 L295.70,183.47 L296.20,182.34 L296.70,181.21 L297.20,180.07 L297.70,178.93 L298.20,177.78 L298.70,176.63 L299.20,175.47 L299.70,174.31 L300.20,173.13 L300.70,171.96 L301.20,170.77 L301.70,169.58 L302.20,168.38 L302.70,167.17 L303.20,165.96 L303.70,164.73 L304.20,163.50 L304.70,162.26 L305.20,161.00 L305.70,159.74 L306.20,158.47 L306.70,157.19 L307.20,155.89 L307.70,154.59 L308.20,153.27 L308.70,151.94 L309.20,150.60 L309.70,149.25 L310.20,147.90 L310.70,146.54 L311.20,145.18 L311.70,143.83 L312.20,142.48 L312.70,141.15 L313.20,139.84 L313.70,138.54 L314.20,137.27 L314.70,136.02 L315.20,134.81 L315.70,133.63 L316.20,132.49 L316.70,131.39 L317.20,130.34 L317.70,129.33 L318.20,128.38 L318.70,127.48 L319.20,126.64 L319.70,125.84 L320.20,125.10 L320.70,124.39 L321.20,123.74 L321.70,123.12 L322.20,122.55 L322.70,122.02 L323.20,121.52 L323.70,121.06 L324.20,120.64 L324.70,120.24 L325.20,119.88 L325.70,119.55 L326.20,119.25 L326.70,118.98 L327.20,118.75 L327.70,118.54 L328.20,118.36 L328.70,118.22 L329.20,118.10 L329.70,118.02 L330.20,117.96 L330.70,117.93 L331.20,117.94 L331.70,117.97 L332.20,118.03 L332.70,118.12 L333.20,118.24 L333.70,118.39 L334.20,118.57 L334.70,118.77 L335.20,119.00 L335.70,119.26 L336.20,119.55 L336.70,119.86 L337.20,120.21 L337.70,120.57 L338.20,120.97 L338.70,121.39 L339.20,121.84 L339.70,122.32 L340.20,122.82 L340.70,123.35 L341.20,123.90 L341.70,124.48 L342.20,125.08 L342.70,125.70 L343.20,126.34 L343.70,127.01 L344.20,127.70 L344.70,128.40 L345.20,129.13 L345.70,129.88 L346.20,130.64 L346.70,131.43 L347.20,132.23 L347.70,133.04 L348.20,133.87 L348.70,134.72 L349.20,135.58 L349.70,136.46 L350.20,137.35 L350.70,138.25 L351.20,139.16 L351.70,140.09 L352.20,141.02 L352.70,141.97 L353.20,142.92 L353.70,143.88 L354.20,144.85 L354.70,145.83 L355.20,146.82 L355.70,147.81 L356.20,148.80 L356.70,149.81 L357.20,150.81 L357.70,151.82 L358.20,152.83 L358.70,153.85 L359.20,154.86 L359.70,155.88 L360.20,156.89 L360.70,157.91 L361.20,158.93 L361.70,159.94 L362.20,160.95 L362.70,161.96 L363.20,162.97 L363.70,163.98 L364.20,164.99 L364.70,165.99 L365.20,166.99 L365.70,167.99 L366.20,168.99 L366.70,169.98 L367.20,170.97 L367.70,171.96 L368.20,172.95 L368.70,173.93 L369.20,174.91 L369.70,175.89 L370.20,176.86 L370.70,177.83 L371.20,178.79 L371.70,179.76 L372.20,180.72 L372.70,181.67 L373.20,182.62 L373.70,183.57 L374.20,184.51 L374.70,185.45 L375.20,186.39 L375.70,187.32 L376.20,188.24 L376.70,189.16 L377.20,190.08 L377.70,190.99 L378.20,191.89 L378.70,192.79 L379.20,193.69 L379.70,194.57 L380.20,195.46 L380.70,196.34 L381.20,197.21 L381.70,198.07 L382.20,198.93 L382.70,199.79 L383.20,200.64 L383.70,201.48 L384.20,202.31 L384.70,203.14 L385.20,203.96 L385.70,204.78 L386.20,205.59 L386.70,206.39 L387.20,207.19 L387.70,207.98 L388.20,208.76 L388.70,209.54 L389.20,210.31 L389.70,211.08 L390.20,211.84 L390.70,212.60 L391.20,213.34 L391.70,214.09 L392.20,214.82 L392.70,215.56 L393.20,216.28 L393.70,217.00 L394.20,217.72 L394.70,218.43 L395.20,219.13 L395.70,219.83 L396.20,220.52 L396.70,221.21 L397.20,221.89 L397.70,222.56 L398.20,223.24 L398.70,223.90 L399.20,224.56 L399.70,225.22 L400.20,225.87 L400.70,226.51 L401.20,227.15 L401.70,227.79 L402.20,228.42 L402.70,229.04 L403.20,229.66 L403.70,230.28 L404.20,230.89 L404.70,231.50 L405.20,232.10 L405.70,232.70 L406.20,233.29 L406.70,233.88 L407.20,234.46 L407.70,235.04 L408.20,235.61 L408.70,236.18 L409.20,236.75 L409.70,237.31 L410.20,237.87 L410.70,238.42 L411.20,238.97 L411.70,239.51 L412.20,240.05 L412.70,240.59 L413.20,241.12 L413.70,241.65 L414.20,242.17 L414.70,242.69 L415.20,243.21 L415.70,243.72 L416.20,244.23 L416.70,244.73 L417.20,245.24 L417.70,245.73 L418.20,246.23 L418.70,246.72 L419.20,247.20 L419.70,247.69 L420.20,248.17 L420.70,248.65 L421.20,249.12 L421.70,249.59 L422.20,250.06 L422.70,250.52 L423.20,250.98 L423.70,251.44 L424.20,251.89 L424.70,252.34 L425.20,252.79 L425.70,253.24 L426.20,253.68 L426.70,254.12 L427.20,254.55 L427.70,254.99 L428.20,255.42 L428.70,255.85 L429.20,256.27 L429.70,256.69 L430.20,257.11 L430.70,257.53 L431.20,257.94 L431.70,258.36 L432.20,258.76 L432.70,259.17 L433.20,259.57 L433.70,259.98 L434.20,260.37 L434.70,260.77 L435.20,261.16 L435.70,261.55 L436.20,261.94 L436.70,262.33 L437.20,262.71 L437.70,263.09 L438.20,263.47 L438.70,263.84 L439.20,264.21 L439.70,264.58 L440.20,264.95 L440.70,265.31 L441.20,265.68 L441.70,266.04 L442.20,266.39 L442.70,266.75 L443.20,267.10 L443.70,267.45 L444.20,267.80 L444.70,268.14 L445.20,268.49 L445.70,268.83 L446.20,269.16 L446.70,269.50 L447.20,269.83 L447.70,270.16 L448.20,270.49 L448.70,270.82 L449.20,271.14 L449.70,271.46 L450.20,271.78 L450.70,272.10 L451.20,272.41 L451.70,272.73 L452.20,273.04 L452.70,273.35 L453.20,273.65 L453.70,273.96 L454.20,274.26 L454.70,274.56 L455.20,274.85 L455.70,275.15 L456.20,275.44 L456.70,275.73 L457.20,276.02 L457.70,276.31 L458.20,276.59 L458.70,276.87 L459.20,277.15 L459.70,277.43 L460.20,277.71 L460.70,277.98 L461.20,278.25 L461.70,278.52 L462.20,278.79 L462.70,279.06 L463.20,279.32 L463.70,279.58 L464.20,279.84 L464.70,280.10 L465.20,280.35 L465.70,280.61 L466.20,280.86 L466.70,281.11 L467.20,281.36 L467.70,281.61 L468.20,281.85 L468.70,282.09 L469.20,282.33 L469.70,282.57 L470.20,282.81 L470.70,283.04 L471.20,283.28 L471.70,283.51 L472.20,283.74 L472.70,283.97 L473.20,284.19 L473.70,284.42 L474.20,284.64 L474.70,284.86 L475.20,285.08 L475.70,285.30 L476.20,285.52 L476.70,285.73 L477.20,285.94 L477.70,286.15 L478.20,286.36 L478.70,286.57 L479.20,286.78 L479.70,286.98 L480.20,287.18 L480.70,287.39 L481.20,287.59 L481.70,287.78 L482.20,287.98 L482.70,288.18 L483.20,288.37 L483.70,288.56 L484.20,288.75 L484.70,288.94 L485.20,289.13 L485.70,289.31 L486.20,289.50 L486.70,289.68 L487.20,289.86 L487.70,290.04 L488.20,290.22 L488.70,290.40 L489.20,290.58 L489.70,290.75 L490.20,290.92 L490.70,291.09 L491.20,291.27 L491.70,291.43 L492.20,291.60 L492.70,291.77 L493.20,291.93 L493.70,292.10 L494.20,292.26 L494.70,292.42 L495.20,292.58 L495.70,292.74 L496.20,292.90 L496.70,293.05 L497.20,293.21 L497.70,293.36 L498.20,293.52 L498.70,293.67 L499.20,293.82 L499.70,293.97 L500.20,294.12 L500.70,294.26 L501.20,294.41 L501.70,294.55 L502.20,294.70 L502.70,294.84 L503.20,294.98 L503.70,295.12 L504.20,295.26 L504.70,295.40 L505.20,295.54 L505.70,295.67 L506.20,295.81 L506.70,295.94 L507.20,296.07 L507.70,296.21 L508.20,296.34 L508.70,296.47 L509.20,296.60 L509.70,296.73 L510.20,296.85 L510.70,296.98 L511.20,297.11 L511.70,297.23 L512.20,297.36 L512.70,297.48 L513.20,297.60 L513.70,297.72 L514.20,297.84 L514.70,297.96 L515.20,298.08 L515.70,298.20 L516.20,298.32 L516.70,298.43 L517.20,298.55 L517.70,298.66 L518.20,298.78 L518.70,298.89 L519.20,299.01 L519.70,299.12 L520.20,299.23 L520.70,299.34 L521.20,299.45 L521.70,299.56 L522.20,299.67 L522.70,299.78 L523.20,299.89 L523.70,299.99 L524.20,300.10 L524.70,300.20 L525.20,300.31 L525.70,300.41 L526.20,300.52 L526.70,300.62 L527.20,300.73 L527.70,300.83 L528.20,300.93 L528.70,301.03 L529.20,301.13 L529.70,301.23 L530.20,301.33 L530.70,301.43 L531.20,301.53 L531.70,301.63 L532.20,301.73 L532.70,301.83 L533.20,301.92 L533.70,302.02 L534.20,302.12 L534.70,302.21 L535.20,302.31 L535.70,302.40 L536.20,302.50 L536.70,302.59 L537.20,302.68 L537.70,302.78 L538.20,302.87 L538.70,302.96 L539.20,303.05 L539.70,303.14 L540.20,303.23 L540.70,303.32 L541.20,303.41 L541.70,303.50 L542.20,303.59 L542.70,303.68 L543.20,303.77 L543.70,303.86 L544.20,303.94 L544.70,304.03 L545.20,304.11 L545.70,304.20 L546.20,304.29 L546.70,304.37 L547.20,304.45 L547.70,304.54 L548.20,304.62 L548.70,304.71 L549.20,304.79 L549.70,304.87 L550.20,304.95 L550.70,305.03 L551.20,305.11 L551.70,305.19 L552.20,305.27 L552.70,305.35 L553.20,305.43 L553.70,305.51 L554.20,305.59 L554.70,305.67 L555.20,305.75 L555.70,305.82 L556.20,305.90 L556.70,305.98 L557.20,306.05 L557.70,306.13 L558.20,306.20 L558.70,306.28 L559.20,306.35 L559.70,306.43 L560.20,306.50 L560.70,306.57 L561.20,306.65 L561.70,306.72 L562.20,306.79 L562.70,306.86 L563.20,306.94 L563.70,307.01 L564.20,307.08 L564.70,307.15 L565.20,307.22 L565.70,307.29 L566.20,307.36 L566.70,307.43 L567.20,307.49 L567.70,307.56 L568.20,307.63 L568.70,307.70 L569.20,307.76 L569.70,307.83 L570.20,307.90 L570.70,307.96 L571.20,308.03 L571.70,308.10 L572.20,308.16 L572.70,308.23 L573.20,308.29 L573.70,308.35 L574.20,308.42 L574.70,308.48 L575.20,308.54 L575.70,308.61 L576.20,308.67 L576.70,308.73 L577.20,308.79 L577.70,308.85 L578.20,308.92 L578.70,308.98 L579.20,309.04 L579.70,309.10 L580.20,309.16 L580.70,309.22 L581.20,309.28 L581.70,309.33 L582.20,309.39 L582.70,309.45 L583.20,309.51 L583.70,309.57 L584.20,309.63 L584.70,309.68 L585.20,309.74 L585.70,309.80 L586.20,309.85 L586.70,309.91 L587.20,309.96 L587.70,310.02 L588.20,310.07 L588.70,310.13 L589.20,310.18 L589.70,310.24 L590.20,310.29 L590.70,310.35 L591.20,310.40 L591.70,310.45 L592.20,310.51 L592.70,310.56 L593.20,310.61 L593.70,310.66 L594.20,310.72 L594.70,310.77 L595.20,310.82 L595.70,310.87 L596.20,310.92 L596.70,310.97 L597.20,311.02 L597.70,311.07 L598.20,311.12 L598.70,311.17 L599.20,311.22 L599.70,311.27 L600.20,311.32 L600.70,311.37 L601.20,311.42 L601.70,311.47 L602.20,311.51 L602.70,311.56 L603.20,311.61 L603.70,311.66 L604.20,311.70 L604.70,311.75 L605.20,311.80 L605.70,311.84 L606.20,311.89 L606.70,311.94 L607.20,311.98 L607.70,312.03 L608.20,312.07 L608.70,312.12 L609.20,312.16 L609.70,312.21 L610.20,312.25 L610.70,312.30 L611.20,312.34 L611.70,312.39 L612.20,312.43 L612.70,312.47 L613.20,312.52 L613.70,312.56 L614.20,312.61 L614.70,312.65 L615.20,312.69 L615.70,312.73 L616.20,312.78 L616.70,312.82 L617.20,312.86 L617.70,312.90 L618.20,312.94 L618.70,312.99 L619.20,313.03 L619.70,313.07 L620.20,313.11 L620.70,313.15 L621.20,313.19 L621.70,313.23 L622.20,313.27 L622.70,313.31 L623.20,313.35 L623.70,313.39 L624.20,313.43 L624.70,313.47 L625.20,313.51 L625.70,313.55 L626.20,313.59 L626.70,313.63 L627.20,313.67 L627.70,313.71 L628.20,313.75 L628.70,313.79 L629.20,313.83 L629.70,313.86 L630.20,313.90 L630.70,313.94 L631.20,313.98 L631.70,314.02 L632.20,314.05 L632.70,314.09 L633.20,314.13 L633.70,314.17 L634.20,314.21 L634.70,314.24 L635.20,314.28 L635.70,314.32 L636.20,314.35 L636.70,314.39 L637.20,314.43 L637.70,314.46 L638.20,314.50 L638.70,314.54 L639.20,314.57 L639.70,314.61 L640.20,314.65 L640.70,314.68 L641.20,314.72 L641.70,314.75 L642.20,314.79 L642.70,314.83 L643.20,314.86 L643.70,314.90 L644.20,314.93 L644.70,314.97 L645.20,315.00 L645.70,315.04 L646.20,315.07 L646.70,315.11 L647.20,315.14 L647.70,315.18 L648.20,315.21 L648.70,315.25 L649.20,315.28 L649.70,315.32 L650.20,315.35 L650.70,315.39 L651.20,315.42 L651.70,315.45 L652.20,315.49 L652.70,315.52 L653.20,315.56 L653.70,315.59 L654.20,315.62 L654.70,315.66 L655.20,315.69 L655.70,315.72 L656.20,315.76 L656.70,315.79 L657.20,315.82 L657.70,315.86 L658.20,315.89 L658.70,315.92 L659.20,315.95 L659.70,315.99 L660.20,316.02 L660.70,316.05 L661.20,316.08 L661.70,316.12 L662.20,316.15 L662.70,316.18 L663.20,316.21 L663.70,316.24 L664.20,316.28 L664.70,316.31 L665.20,316.34 L665.70,316.37 L666.20,316.40 L666.70,316.43 L667.20,316.46 L667.70,316.50 L668.20,316.53 L668.70,316.56 L669.20,316.59 L669.70,316.62 L670.20,316.65 L670.70,316.68 L671.20,316.71 L671.70,316.74 L672.20,316.77 L672.70,316.80 L673.20,316.83 L673.70,316.86 L674.20,316.89 L674.70,316.92 L675.20,316.95 L675.70,316.98 L676.20,317.01 L676.70,317.04 L677.20,317.07 L677.70,317.10 L678.20,317.13 L678.70,317.16 L679.20,317.19 L679.70,317.22 L680.20,317.25 L680.70,317.28 L681.20,317.30 L681.70,317.33 L682.20,317.36 L682.70,317.39 L683.20,317.42 L683.70,317.45 L684.20,317.48 L684.70,317.50 L685.20,317.53 L685.70,317.56 L686.20,317.59 L686.70,317.62 L687.20,317.64 L687.70,317.67 L688.20,317.70 L688.70,317.73 L689.20,317.75 L689.70,317.78 L690.20,317.81 L690.70,317.84 L691.20,317.86 L691.70,317.89 L692.20,317.92 L692.70,317.95 L693.20,317.97 L693.70,318.00 L694.20,318.03 L694.70,318.05 L695.20,318.08 L695.70,318.10 L696.20,318.13 L696.70,318.16 L697.20,318.18 L697.70,318.21 L698.20,318.24 L698.70,318.26 L699.20,318.29 L699.70,318.31 L700.20,318.34 L700.70,318.36 L701.20,318.39 L701.70,318.42 L702.20,318.44 L702.70,318.47 L703.20,318.49 L703.70,318.52 L704.20,318.54 L704.70,318.57 L705.20,318.59 L705.70,318.62 L706.20,318.64 L706.70,318.67 L707.20,318.69 L707.70,318.72 L708.20,318.74 L708.70,318.76 L709.20,318.79 L709.70,318.81 L710.20,318.84 L710.70,318.86 L711.20,318.89 L711.70,318.91 L712.20,318.93 L712.70,318.96 L713.20,318.98 L713.70,319.00 L714.20,319.03 L714.70,319.05 L715.20,319.07 L715.70,319.10 L716.20,319.12 L716.70,319.14 L717.20,319.17 L717.70,319.19 L718.20,319.21 L718.70,319.24 L719.20,319.26 L719.70,319.28 L720.20,319.30 L720.70,319.33 L721.20,319.35 L721.70,319.37 L722.20,319.39 L722.70,319.42 L723.20,319.44 L723.70,319.46 L724.20,319.48 L724.70,319.50 L725.20,319.53 L725.70,319.55 L726.20,319.57 L726.70,319.59 L727.20,319.61 L727.70,319.64 L728.20,319.66 L728.70,319.68 L729.20,319.70 L729.70,319.72 L730.20,319.74 L730.70,319.76 L731.20,319.78 L731.70,319.81 L732.20,319.83 L732.70,319.85 L733.20,319.87 L733.70,319.89 L734.20,319.91 L734.70,319.93 L735.20,319.95 L735.70,319.97 L736.20,319.99 L736.70,320.01 L737.20,320.03 L737.70,320.05 L738.20,320.07 L738.70,320.09 L739.20,320.11 L739.70,320.13 L740.20,320.15 L740.70,320.17 L741.20,320.19 L741.70,320.21 L742.20,320.23 L742.70,320.25 L743.20,320.27 L743.70,320.29 L744.20,320.31 L744.70,320.33 L745.20,320.35 L745.70,320.36 L746.20,320.38 L746.70,320.40 L747.20,320.42 L747.70,320.44 L748.20,320.46 L748.70,320.48 L749.20,320.50 L749.70,320.51 L750.20,320.53 L750.70,320.55 L751.20,320.57 L751.70,320.59 L752.20,320.61 L752.70,320.62 L753.20,320.64 L753.70,320.66 L754.20,320.68 L754.70,320.70 L755.20,320.71 L755.70,320.73 L756.20,320.75 L756.70,320.77 L757.20,320.78 L757.70,320.80 L758.20,320.82 L758.70,320.84 L759.20,320.85 L759.70,320.87 L760.20,320.89 L760.70,320.91 L761.20,320.92 L761.70,320.94 L762.20,320.96 L762.70,320.97 L763.20,320.99 L763.70,321.01 L764.20,321.02 L764.70,321.04 L765.20,321.06 L765.70,321.07 L766.20,321.09 L766.70,321.11 L767.20,321.12 L767.70,321.14 L768.20,321.15 L768.70,321.17 L769.20,321.19 L769.70,321.20 L770.20,321.22 L770.70,321.23 L771.20,321.25 L771.70,321.27 L772.20,321.28 L772.70,321.30 L773.20,321.31 L773.70,321.33 L774.20,321.34 L774.70,321.36 L775.20,321.37 L775.70,321.39 L776.20,321.41 L776.70,321.42 L777.20,321.44 L777.70,321.45 L778.20,321.47 L778.70,321.48 L779.20,321.50 L779.70,321.51 L780.20,321.52 L780.70,321.54 L781.20,321.55 L781.70,321.57 L782.20,321.58 L782.70,321.60 L783.20,321.61 L783.70,321.63 L784.20,321.64 L784.70,321.65 L785.20,321.67 L785.70,321.68 L786.20,321.70 L786.70,321.71 L787.20,321.73 L787.70,321.74 L788.20,321.75 L788.70,321.77 L789.20,321.78 L789.70,321.79 L790.20,321.81 L790.70,321.82 L791.20,321.84 L791.70,321.85 L792.20,321.86 L792.70,321.88 L793.20,321.89 L793.70,321.90 L794.20,321.92 L794.70,321.93 L795.20,321.94 L795.70,321.95 L796.20,321.97 L796.70,321.98 L797.20,321.99 L797.70,322.01 L798.20,322.02 L798.70,322.03 L799.20,322.04 L799.70,322.06 L800.20,322.07 L800.70,322.08 L801.20,322.09 L801.70,322.11 L802.20,322.12 L802.70,322.13 L803.20,322.14 L803.70,322.16 L804.20,322.17 L804.70,322.18 L805.20,322.19 L805.70,322.20 L806.20,322.22 L806.70,322.23 L807.20,322.24 L807.70,322.25 L808.20,322.26 L808.70,322.27 L809.20,322.29 L809.70,322.30 L810.20,322.31 L810.70,322.32 L811.20,322.33 L811.70,322.34 L812.20,322.36 L812.70,322.37 L813.20,322.38 L813.70,322.39 L814.20,322.40 L814.70,322.41 L815.20,322.42 L815.70,322.43 L816.20,322.44 L816.70,322.46 L817.20,322.47 L817.70,322.48 L818.20,322.49 L818.70,322.50 L819.20,322.51 L819.70,322.52 L820.20,322.53 L820.70,322.54 L821.20,322.55 L821.70,322.56 L822.20,322.57 L822.70,322.58 L823.20,322.59 L823.70,322.60 L824.20,322.61 L824.70,322.62 L825.20,322.63 L825.70,322.64 L826.20,322.65 L826.70,322.66 L827.20,322.67 L827.70,322.68 L828.20,322.69 L828.70,322.70 L829.20,322.71 L829.70,322.72 L830.20,322.73 L830.70,322.74 L831.20,322.75 L831.70,322.76 L832.20,322.77 L832.70,322.78 L833.20,322.79 L833.70,322.80 L834.20,322.81 L834.70,322.82 L835.20,322.83 L835.70,322.84 L836.20,322.85 L836.70,322.85 L837.20,322.86 L837.70,322.87 L838.20,322.88 L838.70,322.89 L839.20,322.90 L839.70,322.91 L840.20,322.92 L840.70,322.93 L841.20,322.93 L841.70,322.94 L842.20,322.95 L842.70,322.96 L843.20,322.97 L843.70,322.98 L844.20,322.99 L844.70,323.00 L845.20,323.00 L845.70,323.01 L846.20,323.02 L846.70,323.03 L847.20,323.04 L847.70,323.05 L848.20,323.05 L848.70,323.06 L849.20,323.07 L849.70,323.08 L850.20,323.09 L850.70,323.09 L851.20,323.10 L851.70,323.11 L852.20,323.12 L852.70,323.13 L853.20,323.13 L853.70,323.14 L854.20,323.15 L854.70,323.16 L855.20,323.16 L855.70,323.17 L856.20,323.18 L856.70,323.19 L857.20,323.19 L857.70,323.20 L858.20,323.21 L858.70,323.22 L859.20,323.22 L859.70,323.23 L860.20,323.24 L860.70,323.25 L861.20,323.25 L861.70,323.26 L862.20,323.27 L862.70,323.27 L863.20,323.28 L863.70,323.29 L864.20,323.30 L864.70,323.30 L865.20,323.31 L865.70,323.32 L866.20,323.32 L866.70,323.33 L867.20,323.34 L867.70,323.34 L868.20,323.35 L868.70,323.36 L869.20,323.36 L869.70,323.37 L870.20,323.38 L870.70,323.38 L871.20,323.39 L871.70,323.40 L872.20,323.40 L872.70,323.41 L873.20,323.42 L873.70,323.42 L874.20,323.43 L874.70,323.44 L875.20,323.44 L875.70,323.45 L876.20,323.45 L876.70,323.46 L877.20,323.47 L877.70,323.47 L878.20,323.48 L878.70,323.49 L879.20,323.49 L879.70,323.50 L880.20,323.50 L880.70,323.51 L881.20,323.51 L881.70,323.52 L882.20,323.53 L882.70,323.53 L883.20,323.54 L883.70,323.54 L884.20,323.55 L884.70,323.56 L885.20,323.56 L885.70,323.57 L886.20,323.57 L886.70,323.58 L887.20,323.58 L887.70,323.59 L888.20,323.59 L888.70,323.60 L889.20,323.61 L889.70,323.61 L890.20,323.62 L890.70,323.62 L891.20,323.63 L891.70,323.63 L892.20,323.64 L892.70,323.64 L893.20,323.65 L893.70,323.65 L894.20,323.66 L894.70,323.66 L895.20,323.67 L895.70,323.67 L896.20,323.68 L896.70,323.68 L897.20,323.69 L897.70,323.69 L898.20,323.70 L898.70,323.70 L899.20,323.71 L899.70,323.71 L900.20,323.72 L900.70,323.72 L901.20,323.73 L901.70,323.73 L902.20,323.74 L902.70,323.74 L903.20,323.75 L903.70,323.75 L904.20,323.76 L904.70,323.76 L905.20,323.77 L905.70,323.77 L906.20,323.78 L906.70,323.78 L907.20,323.79 L907.70,323.79 L908.20,323.79 L908.70,323.80 L909.20,323.80 L909.70,323.81 L910.20,323.81 L910.70,323.82 L911.20,323.82 L911.70,323.83 L912.20,323.83 L912.70,323.83 L913.20,323.84 L913.70,323.84 L914.20,323.85 L914.70,323.85 L915.20,323.86 L915.70,323.86 L916.20,323.86 L916.70,323.87 L917.20,323.87 L917.70,323.88 L918.20,323.88 L918.70,323.88 L919.20,323.89 L919.70,323.89 L920.20,323.90 L920.70,323.90 L921.20,323.90 L921.70,323.91 L922.20,323.91 L922.70,323.92 L923.20,323.92 L923.70,323.92 L924.20,323.93 L924.70,323.93 L925.20,323.94 L925.70,323.94 L926.20,323.94 L926.70,323.95 L927.20,323.95 L927.70,323.95 L928.20,323.96 L928.70,323.96 L929.20,323.97 L929.70,323.97 L930.20,323.97 L930.70,323.98 L931.20,323.98 L931.70,323.98 L932.20,323.99 L932.70,323.99 L933.20,323.99 L933.70,324.00 L934.20,324.00 L934.70,324.01 L935.20,324.01 L935.70,324.01 L936.20,324.02 L936.70,324.02 L937.20,324.02 L937.70,324.03 L938.20,324.03 L938.70,324.03 L939.20,324.04 L939.70,324.04 L940.20,324.04 L940.70,324.05 L941.20,324.05 L941.70,324.05 L942.20,324.06 L942.70,324.06 L943.20,324.06 L943.70,324.07 L944.20,324.07 L944.70,324.07 L945.20,324.08 L945.70,324.08 L946.20,324.08 L946.70,324.09 L947.20,324.09 L947.70,324.09 L948.20,324.10 L948.70,324.10 L949.20,324.10 L949.70,324.10 L950.20,324.11 L950.70,324.11 L951.20,324.11 L951.70,324.12 L952.20,324.12 L952.70,324.12 L953.20,324.13 L953.70,324.13 L954.20,324.13 L954.70,324.14 L955.20,324.14 L955.70,324.14 L956.20,324.14 L956.70,324.15 L957.20,324.15 L957.70,324.15 L958.20,324.16 L958.70,324.16 L959.20,324.16 L959.70,324.16 L960.20,324.17 L960.70,324.17 L961.20,324.17 L961.70,324.18 L962.20,324.18 L962.70,324.18 L963.20,324.19 L963.70,324.19 L964.20,324.19 L964.70,324.19 L965.20,324.20 L965.70,324.20 L966.20,324.20 L966.70,324.21 L967.20,324.21 L967.70,324.21 L968.20,324.21 L968.70,324.22 L969.20,324.22 L969.70,324.22 L970.20,324.22 L970.70,324.23 L971.20,324.23 L971.70,324.23 L972.20,324.24 L972.70,324.24 L973.20,324.24 L973.70,324.24 L974.20,324.25 L974.70,324.25 L975.20,324.25 L975.70,324.26 L976.20,324.26 L976.70,324.26 L977.20,324.26 L977.70,324.27 L978.20,324.27 L978.70,324.27 L979.20,324.27 L979.70,324.28 L980.20,324.28 L980.70,324.28 L981.20,324.29 L981.70,324.29 L982.20,324.29 L982.70,324.29 L983.20,324.30 L983.70,324.30 L984.20,324.30 L984.70,324.30 L985.20,324.31 L985.70,324.31 L986.20,324.31 L986.70,324.31 L987.20,324.32 L987.70,324.32 L988.20,324.32 L988.70,324.33 L989.20,324.33 L989.70,324.33 L990.20,324.33 L990.70,324.34 L991.20,324.34 L991.70,324.34 L992.20,324.34 L992.70,324.35 L993.20,324.35 L993.70,324.35 L994.20,324.36 L994.70,324.36 L995.20,324.36 L995.70,324.36 L996.20,324.37 L996.70,324.37 L997.20,324.37 L997.70,324.37 L998.20,324.38 L998.70,324.38 L999.20,324.38 L999.70,324.38 L1000.20,324.39 L1000.70,324.39 L1001.20,324.39 L1001.70,324.40 L1002.20,324.40 L1002.70,324.40 L1003.20,324.40 L1003.70,324.41 L1004.20,324.41 L1004.70,324.41 L1005.20,324.41 L1005.70,324.42 L1006.20,324.42 L1006.70,324.42 L1007.20,324.43 L1007.70,324.43 L1008.20,324.43 L1008.70,324.43 L1009.20,324.44 L1009.70,324.44 L1010.20,324.44 L1010.70,324.45 L1011.20,324.45 L1011.70,324.45 L1012.20,324.45 L1012.70,324.46 L1013.20,324.46 L1013.70,324.46 L1014.20,324.47 L1014.70,324.47 L1015.20,324.47 L1015.70,324.47 L1016.20,324.48 L1016.70,324.48 L1017.20,324.48 L1017.70,324.49 L1018.20,324.49 L1018.70,324.49 L1019.20,324.49 L1019.70,324.50 L1020.20,324.50 L1020.70,324.50 L1021.20,324.51 L1021.70,324.51 L1022.20,324.51 L1022.70,324.51 L1023.20,324.52 L1023.70,324.52 L1024.20,324.52 L1024.70,324.53 L1025.20,324.53 L1025.70,324.53 L1026.20,324.54 L1026.70,324.54 L1027.20,324.54 L1027.70,324.54 L1028.20,324.55 L1028.70,324.55 L1029.20,324.55 L1029.70,324.56 L1030.20,324.56 L1030.70,324.56 L1031.20,324.57 L1031.70,324.57 L1032.20,324.57 L1032.70,324.58 L1033.20,324.58 L1033.70,324.58 L1034.20,324.59 L1034.70,324.59 L1035.20,324.59 L1035.70,324.60 L1036.20,324.60 L1036.70,324.60 L1037.20,324.61 L1037.70,324.61 L1038.20,324.61 L1038.70,324.62 L1039.20,324.62 L1039.70,324.62 L1040.20,324.63 L1040.70,324.63 L1041.20,324.63 L1041.70,324.64 L1042.20,324.64 L1042.70,324.64 L1043.20,324.65 L1043.70,324.65 L1044.20,324.65 L1044.70,324.66 L1045.20,324.66 L1045.70,324.66 L1046.20,324.67 L1046.70,324.67 L1047.20,324.67 L1047.70,324.68 L1048.20,324.68 L1048.70,324.69 L1049.20,324.69 L1049.70,324.69 L1050.20,324.70 L1050.70,324.70 L1051.20,324.70 L1051.70,324.71 L1052.20,324.71 L1052.70,324.71 L1053.20,324.72 L1053.70,324.72 L1054.20,324.73 L1054.70,324.73 L1055.20,324.73 L1055.70,324.74 L1056.20,324.74 L1056.70,324.75 L1057.20,324.75 L1057.70,324.75 L1058.20,324.76 L1058.70,324.76 L1059.20,324.77 L1059.70,324.77 L1060.20,324.77 L1060.70,324.78 L1061.20,324.78 L1061.70,324.79 L1062.20,324.79 L1062.70,324.79 L1063.20,324.80 L1063.70,324.80 L1064.20,324.81 L1064.70,324.81 L1065.20,324.81 L1065.70,324.82 L1066.20,324.82 L1066.70,324.83 L1067.20,324.83 L1067.70,324.84 L1068.20,324.84 L1068.70,324.85 L1069.20,324.85 L1069.70,324.85 L1070.20,324.86 L1070.70,324.86 L1071.20,324.87 L1071.70,324.87 L1072.20,324.88 L1072.70,324.88 L1073.20,324.89 L1073.70,324.89 L1074.20,324.89 L1074.70,324.90 L1075.20,324.90 L1075.70,324.91 L1076.20,324.91 L1076.70,324.92 L1077.20,324.92 L1077.70,324.93 L1078.20,324.93 L1078.70,324.94 L1079.20,324.94 L1079.70,324.95 L1080.20,324.95 L1080.70,324.96 L1081.20,324.96 L1081.70,324.97 L1082.20,324.97 L1082.70,324.98 L1083.20,324.98 L1083.70,324.99 L1084.20,324.99 L1084.70,325.00 L1085.20,325.00 L1085.70,325.01 L1086.20,325.01 L1086.70,325.02 L1087.20,325.02 L1087.70,325.03 L1088.20,325.03 L1088.70,325.04 L1089.20,325.05 L1089.70,325.05 L1090.20,325.06 L1090.70,325.06 L1091.20,325.07 L1091.70,325.07 L1092.20,325.08 L1092.70,325.08 L1093.20,325.09 L1093.70,325.09 L1094.20,325.10 L1094.70,325.11 L1095.20,325.11 L1095.70,325.12 L1096.20,325.12 L1096.70,325.13 L1097.20,325.14 L1097.70,325.14 L1098.20,325.15 L1098.70,325.15 L1099.20,325.16 L1099.70,325.16 L1100.20,325.17 L1100.70,325.18 L1101.20,325.18 L1101.70,325.19 L1102.20,325.20 L1102.70,325.20 L1103.20,325.21 L1103.70,325.21 L1104.20,325.22 L1104.70,325.23 L1105.20,325.23 L1105.70,325.24 L1106.20,325.24 L1106.70,325.25 L1107.20,325.25 L1107.70,325.26 L1108.20,325.27 L1108.70,325.27 L1109.20,325.28 L1109.70,325.28 L1110.20,325.29 L1110.70,325.29 L1111.20,325.30 L1111.70,325.30 L1112.20,325.30 L1112.70,325.31 L1113.20,325.31 L1113.70,325.32 L1114.20,325.32 L1114.70,325.32 L1115.20,325.33 L1115.70,325.33 L1116.20,325.33 L1116.70,325.33 L1117.20,325.33 L1117.70,325.34 L1118.20,325.34 L1118.70,325.34 L1119.20,325.34 L1119.70,325.34 L1120.20,325.34 L1120.70,325.34 L1121.20,325.34 L1121.70,325.34 L1122.20,325.34 L1122.70,325.33 L1123.20,325.33 L1123.70,325.33 L1124.20,325.33 L1124.70,325.32 L1125.20,325.32 L1125.70,325.31 L1126.20,325.31 L1126.70,325.30 L1127.20,325.30 L1127.70,325.29 L1128.20,325.28 L1128.70,325.28 L1129.20,325.27 L1129.70,325.26 L1130.20,325.25 L1130.70,325.24 L1131.20,325.23 L1131.70,325.22 L1132.20,325.21 L1132.70,325.20 L1133.20,325.19 L1133.70,325.17 L1134.20,325.16 L1134.70,325.15 L1135.20,325.13 L1135.70,325.12 L1136.20,325.10 L1136.70,325.08 L1137.20,325.07 L1137.70,325.05 L1138.20,325.03 L1138.70,325.01 L1139.20,324.99 L1139.70,324.97 L1140.20,324.95 L1140.70,324.92 L1141.20,324.90 L1141.70,324.88 L1142.20,324.85 L1142.70,324.83 L1143.20,324.80 L1143.70,324.77 L1144.20,324.75 L1144.70,324.72 L1145.20,324.69 L1145.70,324.66 L1146.20,324.63 L1146.70,324.60 L1147.20,324.56 L1147.70,324.53 L1148.20,324.49 L1148.70,324.46 L1149.20,324.42 L1149.70,324.39 L1150.20,324.35 L1150.70,324.31 L1151.20,324.27 L1151.70,324.23 L1152.20,324.18 L1152.70,324.14 L1153.20,324.10 L1153.70,324.05 L1154.20,324.01 L1154.70,323.96 L1155.20,323.91 L1155.70,323.86 L1156.20,323.81 L1156.70,323.76 L1157.20,323.71 L1157.70,323.66 L1158.20,323.60 L1158.70,323.55 L1159.20,323.49 L1159.70,323.43 L1160.20,323.37 L1160.70,323.31 L1161.20,323.25 L1161.70,323.19 L1162.20,323.13 L1162.70,323.06 L1163.20,323.00 L1163.70,322.93 L1164.20,322.86 L1164.70,322.79 L1165.20,322.72 L1165.70,322.65 L1166.20,322.58 L1166.70,322.50 L1167.20,322.43 L1167.70,322.35 L1168.20,322.27 L1168.70,322.19 L1169.20,322.11 L1169.70,322.03 L1170.20,321.95 L1170.70,321.86 L1171.20,321.78 L1171.70,321.69 L1172.20,321.60 L1172.70,321.51 L1173.20,321.42 L1173.70,321.33 L1174.20,321.23 L1174.70,321.13 L1175.20,321.03 L1175.70,320.93 L1176.20,320.82 L1176.70,320.72 L1177.20,320.61 L1177.70,320.49 L1178.20,320.38 L1178.70,320.26 L1179.20,320.14 L1179.70,320.02 L1180.20,319.89 L1180.70,319.76 L1181.20,319.63 L1181.70,319.50 L1182.20,319.36 L1182.70,319.21 L1183.20,319.07 L1183.70,318.92 L1184.20,318.77 L1184.70,318.61 L1185.20,318.45 L1185.70,318.29 L1186.20,318.12 L1186.70,317.95 L1187.20,317.77 L1187.70,317.59 L1188.20,317.41 L1188.70,317.22 L1189.20,317.02 L1189.70,316.83 L1190.20,316.62 L1190.70,316.42 L1191.20,316.20 L1191.70,315.99 L1192.20,315.77 L1192.70,315.54 L1193.20,315.31 L1193.70,315.07 L1194.20,314.83 L1194.70,314.58 L1195.20,314.33 L1195.70,314.07 L1196.20,313.80 L1196.70,313.53 L1197.20,313.26 L1197.70,312.97 L1198.20,312.69 L1198.70,312.39 L1199.20,312.09 L1199.70,311.79 L1200.20,311.48 L1200.70,311.16 L1201.20,310.84 L1201.70,310.51 L1202.20,310.18 L1202.70,309.84 L1203.20,309.50 L1203.70,309.15 L1204.20,308.80 L1204.70,308.44 L1205.20,308.08 L1205.70,307.71 L1206.20,307.33 L1206.70,306.95 L1207.20,306.57 L1207.70,306.18 L1208.20,305.79 L1208.70,305.39 L1209.20,304.98 L1209.70,304.57 L1210.20,304.16 L1210.70,303.74 L1211.20,303.32 L1211.70,302.89 L1212.20,302.46 L1212.70,302.02 L1213.20,301.58 L1213.70,301.14 L1214.20,300.69 L1214.70,300.23 L1215.20,299.77 L1215.70,299.31 L1216.20,298.84 L1216.70,298.37 L1217.20,297.90 L1217.70,297.42 L1218.20,296.93 L1218.70,296.44 L1219.20,295.95 L1219.70,295.46 L1220.20,294.96 L1220.70,294.45 L1221.20,293.95 L1221.70,293.44 L1222.20,292.92 L1222.70,292.40 L1223.20,291.88 L1223.70,291.36 L1224.20,290.83 L1224.70,290.29 L1225.20,289.76 L1225.70,289.22 L1226.20,288.67 L1226.70,288.13 L1227.20,287.58 L1227.70,287.03 L1228.20,286.47 L1228.70,285.91 L1229.20,285.35 L1229.70,284.79 L1230.20,284.22 L1230.70,283.67 L1231.20,283.12 L1231.70,282.57 L1232.20,282.04 L1232.70,281.53 L1233.20,281.03 L1233.70,280.55 L1234.20,280.09 L1234.70,279.66 L1235.20,279.25 L1235.70,278.87 L1236.20,278.53 L1236.70,278.21 L1237.20,277.94 L1237.70,277.69 L1238.20,277.47 L1238.70,277.29 L1239.20,277.13 L1239.70,277.01 L1240.20,276.90 L1240.70,276.83 L1241.20,276.78 L1241.70,276.75 L1242.20,276.74 L1242.70,276.76 L1243.20,276.79 L1243.70,276.84 L1244.20,276.91 L1244.70,277.00 L1245.20,277.11 L1245.70,277.23 L1246.20,277.37 L1246.70,277.52 L1247.20,277.69 L1247.70,277.87 L1248.20,278.07 L1248.70,278.29 L1249.20,278.51 L1249.70,278.75 L1250.20,279.00 L1250.70,279.27 L1251.20,279.54 L1251.70,279.83 L1252.20,280.13 L1252.70,280.44 L1253.20,280.76 L1253.70,281.09 L1254.20,281.43 L1254.70,281.78 L1255.20,282.14 L1255.70,282.50 L1256.20,282.87 L1256.70,283.25 L1257.20,283.64 L1257.70,284.04 L1258.20,284.43 L1258.70,284.84 L1259.20,285.25 L1259.70,285.67 L1260.20,286.09 L1260.70,286.51 L1261.20,286.94 L1261.70,287.37 L1262.20,287.80 L1262.70,288.23 L1263.20,288.67 L1263.70,289.11 L1264.20,289.55 L1264.70,289.99 L1265.20,290.43 L1265.70,290.87 L1266.20,291.30 L1266.70,291.74 L1267.20,292.18 L1267.70,292.61 L1268.20,293.04 L1268.70,293.47 L1269.20,293.90 L1269.70,294.32 L1270.20,294.74 L1270.70,295.15 L1271.20,295.56 L1271.70,295.96 L1272.20,296.36 L1272.70,296.75 L1273.20,297.14 L1273.70,297.52 L1274.20,297.89 L1274.70,298.25 L1275.20,298.61 L1275.70,298.96 L1276.20,299.31 L1276.70,299.65 L1277.20,299.98 L1277.70,300.30 L1278.20,300.63 L1278.70,300.94 L1279.20,301.25 L1279.70,301.55 L1280.20,301.85 L1280.70,302.14 L1281.20,302.43 L1281.70,302.71 L1282.20,302.99 L1282.70,303.26 L1283.20,303.52 L1283.70,303.78 L1284.20,304.04 L1284.70,304.29 L1285.20,304.53 L1285.70,304.77 L1286.20,305.01 L1286.70,305.24 L1287.20,305.47 L1287.70,305.69 L1288.20,305.91 L1288.70,306.12 L1289.20,306.33 L1289.70,306.54 L1290.20,306.74 L1290.70,306.94 L1291.20,307.13 L1291.70,307.32 L1292.20,307.51 L1292.70,307.69 L1293.20,307.87 L1293.70,308.04 L1294.20,308.22 L1294.70,308.39 L1295.20,308.55 L1295.70,308.71 L1296.20,308.87 L1296.70,309.03 L1297.20,309.18 L1297.70,309.34 L1298.20,309.48 L1298.70,309.63 L1299.20,309.77 L1299.70,309.91 L1300.20,310.05 L1300.70,310.19 L1301.20,310.32 L1301.70,310.45 L1302.20,310.58 L1302.70,310.71 L1303.20,310.83 L1303.70,310.96 L1304.20,311.08 L1304.70,311.20 L1305.20,311.32 L1305.70,311.44 L1306.20,311.55 L1306.70,311.67 L1307.20,311.78 L1307.70,311.89 L1308.20,312.00 L1308.70,312.11 L1309.20,312.22 L1309.70,312.33 L1310.20,312.43 L1310.70,312.54 L1311.20,312.64 L1311.70,312.74 L1312.20,312.84 L1312.70,312.94 L1313.20,313.04 L1313.70,313.14 L1314.20,313.23 L1314.70,313.33 L1315.20,313.42 L1315.70,313.51 L1316.20,313.60 L1316.70,313.69 L1317.20,313.78 L1317.70,313.87 L1318.20,313.95 L1318.70,314.04 L1319.20,314.12 L1319.70,314.21 L1320.20,314.29 L1320.70,314.37 L1321.20,314.45 L1321.70,314.53 L1322.20,314.61 L1322.70,314.69 L1323.20,314.76 L1323.70,314.84 L1324.20,314.91 L1324.70,314.99 L1325.20,315.06 L1325.70,315.13 L1326.20,315.20 L1326.70,315.27 L1327.20,315.34 L1327.70,315.41 L1328.20,315.48 L1328.70,315.54 L1329.20,315.61 L1329.70,315.68 L1330.20,315.74 L1330.70,315.80 L1331.20,315.87 L1331.70,315.93 L1332.20,315.99 L1332.70,316.05 L1333.20,316.11 L1333.70,316.17 L1334.20,316.23 L1334.70,316.28 L1335.20,316.34 L1335.70,316.40 L1336.20,316.45 L1336.70,316.51 L1337.20,316.56 L1337.70,316.62 L1338.20,316.67 L1338.70,316.72 L1339.20,316.78 L1339.70,316.83 L1340.20,316.88 L1340.70,316.93 L1341.20,316.98 L1341.70,317.03 L1342.20,317.08 L1342.70,317.13 L1343.20,317.18 L1343.70,317.22 L1344.20,317.27 L1344.70,317.32 L1345.20,317.37 L1345.70,317.41 L1346.20,317.46 L1346.70,317.50 L1347.20,317.55 L1347.70,317.59 L1348.20,317.64 L1348.70,317.68 L1349.20,317.73 L1349.70,317.77 L1350.20,317.81 L1350.70,317.85 L1351.20,317.90 L1351.70,317.94 L1352.20,317.98 L1352.70,318.02 L1353.20,318.07 L1353.70,318.11 L1354.20,318.15 L1354.70,318.19 L1355.20,318.23 L1355.70,318.27 L1356.20,318.31 L1356.70,318.35 L1357.20,318.39 L1357.70,318.43 L1358.20,318.47 L1358.70,318.51 L1359.20,318.56 L1359.70,318.60 L1360.20,318.64 L1360.70,318.68 L1361.20,318.72 L1361.70,318.76 L1362.20,318.80 L1362.70,318.84 L1363.20,318.88 L1363.70,318.92 L1364.20,318.96 L1364.70,319.00 L1365.20,319.04 L1365.70,319.08 L1366.20,319.12 L1366.70,319.16 L1367.20,319.20 L1367.70,319.24 L1368.20,319.28" stroke="#0000dd" stroke-dasharray="4.4 7.45 0.01 7.97" stroke-linecap="round"/>
</g>
<rect x="312.9" y="8.7" width="10.7" height="329.9" fill="rgb(9,38,98)" fill-opacity="0.53"/>
<rect x="1231.1" y="8.7" width="10.8" height="329.9" fill="rgb(255,0,0)" fill-opacity="0.51"/>
<line x1="182.2" y1="503.6" x2="1368.2" y2="503.6" stroke="#e00a0a" stroke-width="2.8"/>
<line x1="182.40" y1="503.6" x2="1237.00" y2="503.6" stroke="#0000dd" stroke-width="2.8" stroke-dasharray="4.4 7.45 0.01 7.97" stroke-linecap="round" stroke-dashoffset="19.28"/>
<line x1="1237.00" y1="503.6" x2="1367.00" y2="503.6" stroke="#0000dd" stroke-width="2.8" stroke-dasharray="4.4 7.45 0.01 7.97" stroke-linecap="round" stroke-dashoffset="5.35"/>
<line x1="1237.0" y1="502.6" x2="1237.0" y2="654.0" stroke="#e00a0a" stroke-width="3.0" stroke-linecap="round"/>
<line x1="1237.0" y1="355.5" x2="1237.0" y2="499.6" stroke="#0000dd" stroke-width="3.0" stroke-dasharray="14.2 6.1" stroke-dashoffset="0.0" stroke-linecap="round"/>
<line x1="182.2" y1="833.6" x2="1368.2" y2="833.6" stroke="#e00a0a" stroke-width="2.8"/>
<line x1="182.40" y1="833.6" x2="284.80" y2="833.6" stroke="#0000dd" stroke-width="2.8" stroke-dasharray="4.4 7.45 0.01 7.97" stroke-linecap="round" stroke-dashoffset="19.68"/>
<line x1="284.80" y1="833.6" x2="1234.60" y2="833.6" stroke="#0000dd" stroke-width="2.8" stroke-dasharray="4.4 7.45 0.01 7.97" stroke-linecap="round" stroke-dashoffset="18.98"/>
<line x1="1234.60" y1="833.6" x2="1367.00" y2="833.6" stroke="#0000dd" stroke-width="2.8" stroke-dasharray="4.4 7.45 0.01 7.97" stroke-linecap="round" stroke-dashoffset="18.81"/>
<line x1="284.8" y1="832.6" x2="284.8" y2="981.0" stroke="#e00a0a" stroke-width="3.6" stroke-linecap="round"/>
<line x1="284.8" y1="686.0" x2="284.8" y2="829.6" stroke="#0000dd" stroke-width="3.2" stroke-dasharray="1 6.2 6.4 6.4" stroke-dashoffset="0.0" stroke-linecap="round"/>
<line x1="1234.6" y1="832.6" x2="1234.6" y2="987.0" stroke="#e00a0a" stroke-width="3.0" stroke-linecap="round"/>
<line x1="1234.6" y1="683.5" x2="1234.6" y2="829.6" stroke="#0000dd" stroke-width="3.0" stroke-dasharray="11.8 8.1" stroke-dashoffset="7.4" stroke-linecap="round"/>
<g stroke="#000" stroke-width="2.6" fill="none">
<rect x="182.2" y="8.7" width="1186.0" height="990.3"/>
<line x1="182.2" y1="338.6" x2="1368.2" y2="338.6"/>
<line x1="182.2" y1="668.9" x2="1368.2" y2="668.9"/>
</g>
<g stroke="#000" stroke-width="2.2">
<line x1="176.7" y1="21.7" x2="182.2" y2="21.7"/>
<line x1="178.7" y1="97.8" x2="182.2" y2="97.8"/>
<line x1="176.7" y1="173.4" x2="182.2" y2="173.4"/>
<line x1="178.7" y1="249.8" x2="182.2" y2="249.8"/>
<line x1="176.7" y1="325.9" x2="182.2" y2="325.9"/>
<line x1="174.7" y1="371.9" x2="182.2" y2="371.9"/>
<line x1="178.2" y1="437.7" x2="182.2" y2="437.7"/>
<line x1="174.7" y1="503.6" x2="182.2" y2="503.6"/>
<line x1="178.2" y1="569.5" x2="182.2" y2="569.5"/>
<line x1="174.7" y1="635.3" x2="182.2" y2="635.3"/>
<line x1="174.7" y1="701.9" x2="182.2" y2="701.9"/>
<line x1="178.2" y1="767.7" x2="182.2" y2="767.7"/>
<line x1="174.7" y1="833.6" x2="182.2" y2="833.6"/>
<line x1="178.2" y1="899.5" x2="182.2" y2="899.5"/>
<line x1="174.7" y1="965.3" x2="182.2" y2="965.3"/>
<line x1="182.2" y1="999.0" x2="182.2" y2="1004.0"/>
<line x1="266.9" y1="335.6" x2="266.9" y2="338.6"/>
<line x1="266.9" y1="665.9" x2="266.9" y2="668.9"/>
<line x1="266.9" y1="999.0" x2="266.9" y2="1002.0"/>
<line x1="351.6" y1="333.6" x2="351.6" y2="338.6"/>
<line x1="351.6" y1="663.9" x2="351.6" y2="668.9"/>
<line x1="351.6" y1="999.0" x2="351.6" y2="1004.0"/>
<line x1="436.3" y1="335.6" x2="436.3" y2="338.6"/>
<line x1="436.3" y1="665.9" x2="436.3" y2="668.9"/>
<line x1="436.3" y1="999.0" x2="436.3" y2="1002.0"/>
<line x1="521.1" y1="333.6" x2="521.1" y2="338.6"/>
<line x1="521.1" y1="663.9" x2="521.1" y2="668.9"/>
<line x1="521.1" y1="999.0" x2="521.1" y2="1004.0"/>
<line x1="605.8" y1="335.6" x2="605.8" y2="338.6"/>
<line x1="605.8" y1="665.9" x2="605.8" y2="668.9"/>
<line x1="605.8" y1="999.0" x2="605.8" y2="1002.0"/>
<line x1="690.5" y1="333.6" x2="690.5" y2="338.6"/>
<line x1="690.5" y1="663.9" x2="690.5" y2="668.9"/>
<line x1="690.5" y1="999.0" x2="690.5" y2="1004.0"/>
<line x1="775.2" y1="335.6" x2="775.2" y2="338.6"/>
<line x1="775.2" y1="665.9" x2="775.2" y2="668.9"/>
<line x1="775.2" y1="999.0" x2="775.2" y2="1002.0"/>
<line x1="859.9" y1="333.6" x2="859.9" y2="338.6"/>
<line x1="859.9" y1="663.9" x2="859.9" y2="668.9"/>
<line x1="859.9" y1="999.0" x2="859.9" y2="1004.0"/>
<line x1="944.6" y1="335.6" x2="944.6" y2="338.6"/>
<line x1="944.6" y1="665.9" x2="944.6" y2="668.9"/>
<line x1="944.6" y1="999.0" x2="944.6" y2="1002.0"/>
<line x1="1029.3" y1="333.6" x2="1029.3" y2="338.6"/>
<line x1="1029.3" y1="663.9" x2="1029.3" y2="668.9"/>
<line x1="1029.3" y1="999.0" x2="1029.3" y2="1004.0"/>
<line x1="1114.1" y1="335.6" x2="1114.1" y2="338.6"/>
<line x1="1114.1" y1="665.9" x2="1114.1" y2="668.9"/>
<line x1="1114.1" y1="999.0" x2="1114.1" y2="1002.0"/>
<line x1="1198.8" y1="333.6" x2="1198.8" y2="338.6"/>
<line x1="1198.8" y1="663.9" x2="1198.8" y2="668.9"/>
<line x1="1198.8" y1="999.0" x2="1198.8" y2="1004.0"/>
<line x1="1283.5" y1="335.6" x2="1283.5" y2="338.6"/>
<line x1="1283.5" y1="665.9" x2="1283.5" y2="668.9"/>
<line x1="1283.5" y1="999.0" x2="1283.5" y2="1002.0"/>
<line x1="1368.2" y1="999.0" x2="1368.2" y2="1004.0"/>
</g>
<g fill="#000">
<text transform="translate(175.30,30.80) scale(0.9650,1)" font-size="32.30" text-anchor="end">0.070</text>
<text transform="translate(175.30,182.60) scale(0.9650,1)" font-size="32.30" text-anchor="end">0.035</text>
<text transform="translate(175.30,334.80) scale(0.9650,1)" font-size="32.30" text-anchor="end">0.000</text>
<text transform="translate(171.20,380.10) scale(0.9600,1)" font-size="31.00" text-anchor="end">1.60E4</text>
<text transform="translate(171.20,512.60) scale(1.0300,1)" font-size="31.00" text-anchor="end">0.00</text>
<text transform="translate(171.20,644.60) scale(0.9750,1)" font-size="31.00" text-anchor="end">-1.60E4</text>
<text transform="translate(175.40,710.60) scale(0.9600,1)" font-size="31.00" text-anchor="end">1.60E4</text>
<text transform="translate(175.40,842.60) scale(1.0000,1)" font-size="31.00" text-anchor="end">0.00</text>
<text transform="translate(175.40,974.60) scale(0.9750,1)" font-size="31.00" text-anchor="end">-1.60E4</text>
<text transform="translate(181.90,1030.90) scale(1.0000,1)" font-size="31.50" text-anchor="middle">0.5</text>
<text transform="translate(351.33,1030.90) scale(1.0000,1)" font-size="31.50" text-anchor="middle">0.6</text>
<text transform="translate(520.76,1030.90) scale(1.0000,1)" font-size="31.50" text-anchor="middle">0.7</text>
<text transform="translate(690.19,1030.90) scale(1.0000,1)" font-size="31.50" text-anchor="middle">0.8</text>
<text transform="translate(859.61,1030.90) scale(1.0000,1)" font-size="31.50" text-anchor="middle">0.9</text>
<text transform="translate(1029.04,1030.90) scale(1.0000,1)" font-size="31.50" text-anchor="middle">1.0</text>
<text transform="translate(1198.47,1030.90) scale(1.0000,1)" font-size="31.50" text-anchor="middle">1.1</text>
<text transform="translate(1367.90,1030.90) scale(1.0000,1)" font-size="31.50" text-anchor="middle">1.2</text>
<text transform="translate(775.60,1075.50) scale(1.0530,1)" font-size="35.00" text-anchor="middle">Wavelength (um)</text>
<text transform="translate(41.6,535.8) rotate(-90) scale(1.01,1)" font-size="35" text-anchor="middle">Optical Cross Sections (um<tspan font-size="21" dy="-20">2</tspan><tspan dy="20">)</tspan></text>
<text transform="translate(197.80,62.90) scale(1.0000,1)" font-size="48.00" text-anchor="start">(a)</text>
<text transform="translate(196.60,391.60) scale(1.0000,1)" font-size="48.00" text-anchor="start">(b)</text>
<text transform="translate(196.60,721.60) scale(1.0000,1)" font-size="48.00" text-anchor="start">(c)</text>
<line x1="891.6" y1="70.9" x2="968" y2="70.9" stroke="#e00a0a" stroke-width="2.8"/>
<line x1="892.8" y1="111.9" x2="968" y2="111.9" stroke="#0000dd" stroke-width="2.8" stroke-dasharray="5.4 7.2 0.1 7.3" stroke-linecap="round"/>
<text transform="translate(976.30,82.40) scale(1.0100,1)" font-size="32.60" text-anchor="start">Absorption</text>
<text transform="translate(974.40,122.60) scale(1.0300,1)" font-size="32.60" text-anchor="start">Scattering</text>
<line x1="891.6" y1="400.9" x2="968" y2="400.9" stroke="#e00a0a" stroke-width="2.8"/>
<line x1="892.8" y1="441.9" x2="968" y2="441.9" stroke="#0000dd" stroke-width="2.8" stroke-dasharray="5.4 7.2 0.1 7.3" stroke-linecap="round"/>
<text transform="translate(976.30,412.40) scale(1.0100,1)" font-size="32.60" text-anchor="start">Absorption</text>
<text transform="translate(974.40,452.60) scale(1.0300,1)" font-size="32.60" text-anchor="start">Scattering</text>
<line x1="891.6" y1="730.9" x2="968" y2="730.9" stroke="#e00a0a" stroke-width="2.8"/>
<line x1="892.8" y1="771.9" x2="968" y2="771.9" stroke="#0000dd" stroke-width="2.8" stroke-dasharray="5.4 7.2 0.1 7.3" stroke-linecap="round"/>
<text transform="translate(976.30,742.40) scale(1.0100,1)" font-size="32.60" text-anchor="start">Absorption</text>
<text transform="translate(974.40,782.60) scale(1.0300,1)" font-size="32.60" text-anchor="start">Scattering</text>
<text transform="translate(225.80,161.60) scale(0.8800,1)" font-size="44.00" text-anchor="start" font-family="Liberation Serif" font-style="italic" stroke="#000" stroke-width="0.9">M</text>
<text transform="translate(263.60,143.60) scale(1.0500,1)" font-size="30.20" text-anchor="start" font-family="Liberation Serif" font-style="italic" stroke="#000" stroke-width="0.9">II</text>
<text transform="translate(1273.20,120.00) scale(0.8800,1)" font-size="44.00" text-anchor="start" font-family="Liberation Serif" font-style="italic" stroke="#000" stroke-width="0.9">M</text>
<text transform="translate(1312.60,102.10) scale(0.8000,1)" font-size="30.20" text-anchor="start" font-family="Liberation Serif" font-style="italic" stroke="#000" stroke-width="0.9">I</text>
</g>
<g>
<circle cx="579.0" cy="133.5" r="105.8" fill="#e7e7e7"/>
<circle cx="579.0" cy="133.5" r="96.5" fill="#969696"/>
<circle cx="579.0" cy="133.5" r="55.1" fill="none" stroke="#f4bc3a" stroke-width="16.8"/>
<line x1="578.50" y1="131.00" x2="578.50" y2="94.06" stroke="#111" stroke-width="1.90"/><path d="M578.50,87.20 L582.20,95.00 L578.50,94.06 L574.80,95.00 Z" fill="#111"/>
<line x1="578.50" y1="131.00" x2="609.30" y2="86.45" stroke="#111" stroke-width="1.90"/><path d="M613.20,80.80 L611.81,89.32 L609.30,86.45 L605.72,85.11 Z" fill="#111"/>
<line x1="578.50" y1="131.00" x2="656.73" y2="89.61" stroke="#111" stroke-width="1.90"/><path d="M662.80,86.40 L657.64,93.32 L656.73,89.61 L654.18,86.78 Z" fill="#111"/>
<line x1="578.50" y1="131.00" x2="677.36" y2="122.58" stroke="#111" stroke-width="1.90"/><path d="M684.20,122.00 L676.74,126.35 L677.36,122.58 L676.11,118.98 Z" fill="#111"/>
<text transform="translate(555.20,111.80) scale(1.0000,1)" font-size="27.00" text-anchor="start" font-family="Liberation Serif" font-style="italic" stroke="#000" stroke-width="0.5">r</text>
<text transform="translate(566.70,117.50) scale(1.0000,1)" font-size="17.00" text-anchor="start" font-family="Liberation Serif" stroke="#000" stroke-width="0.3">1</text>
<text transform="translate(581.00,89.70) scale(1.0000,1)" font-size="27.00" text-anchor="start" font-family="Liberation Serif" font-style="italic" stroke="#000" stroke-width="0.5">r</text>
<text transform="translate(592.50,95.40) scale(1.0000,1)" font-size="17.00" text-anchor="start" font-family="Liberation Serif" stroke="#000" stroke-width="0.3">2</text>
<text transform="translate(624.80,84.10) scale(1.0000,1)" font-size="27.00" text-anchor="start" font-family="Liberation Serif" font-style="italic" stroke="#000" stroke-width="0.5">r</text>
<text transform="translate(636.30,89.80) scale(1.0000,1)" font-size="17.00" text-anchor="start" font-family="Liberation Serif" stroke="#000" stroke-width="0.3">3</text>
<text transform="translate(651.10,113.80) scale(1.0000,1)" font-size="27.00" text-anchor="start" font-family="Liberation Serif" font-style="italic" stroke="#000" stroke-width="0.5">r</text>
<text transform="translate(662.60,119.50) scale(1.0000,1)" font-size="17.00" text-anchor="start" font-family="Liberation Serif" stroke="#000" stroke-width="0.3">4</text>
<line x1="436.10" y1="136.00" x2="436.10" y2="113.64" stroke="#000" stroke-width="2.10"/><path d="M436.10,106.60 L440.10,114.60 L436.10,113.64 L432.10,114.60 Z" fill="#000"/>
<line x1="436.10" y1="134.00" x2="436.10" y2="158.86" stroke="#000" stroke-width="2.10"/><path d="M436.10,165.90 L432.10,157.90 L436.10,158.86 L440.10,157.90 Z" fill="#000"/>
<line x1="421.40" y1="135.00" x2="460.08" y2="135.00" stroke="#000" stroke-width="2.30"/><path d="M468.00,135.00 L459.00,139.50 L460.08,135.00 L459.00,130.50 Z" fill="#000"/>
<text transform="translate(415.60,120.40) scale(0.9300,1)" font-size="31.00" text-anchor="start" font-family="Liberation Serif" font-style="italic" font-weight="bold">E</text>
<text transform="translate(454.00,169.30) scale(1.0000,1)" font-size="31.00" text-anchor="start" font-family="Liberation Serif" font-style="italic" font-weight="bold">k</text>
<rect x="692.3" y="158.6" width="36.1" height="19.8" fill="#e6e6e6"/>
<text transform="translate(733.20,177.00) scale(1.0400,1)" font-size="26.50" text-anchor="start">Silver</text>
<rect x="692.3" y="184.5" width="36.1" height="19.8" fill="#969696"/>
<text transform="translate(733.20,202.70) scale(1.1050,1)" font-size="26.50" text-anchor="start">Dielectric</text>
<rect x="692.3" y="209.7" width="36.1" height="19.8" fill="#f4bc3a"/>
<text transform="translate(733.20,228.00) scale(1.0700,1)" font-size="26.50" text-anchor="start">Gold</text>
</g>
</svg></body></html>
